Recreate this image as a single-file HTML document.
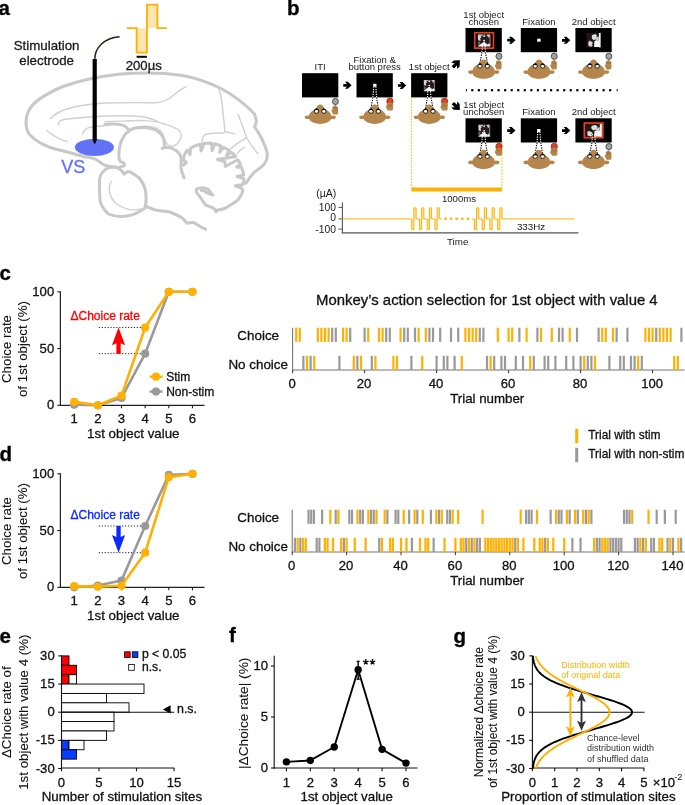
<!DOCTYPE html>
<html><head><meta charset="utf-8"><style>
html,body{margin:0;padding:0;background:#fff;width:685px;height:805px;overflow:hidden}
svg{display:block;font-family:"Liberation Sans", sans-serif}
text{paint-order:stroke}
svg{will-change:transform}
</style></head><body>
<svg width="685" height="805" viewBox="0 0 685 805">
<rect width="685" height="805" fill="#fff"/>
<text x="-1.60" y="14.70" font-size="20.5" text-anchor="start" fill="#000" stroke="#000" font-weight="bold"  stroke-width="0.3">a</text>
<text x="287.00" y="15.20" font-size="20.5" text-anchor="start" fill="#000" stroke="#000" font-weight="bold"  stroke-width="0.3">b</text>
<text x="-0.50" y="279.90" font-size="20.5" text-anchor="start" fill="#000" stroke="#000" font-weight="bold"  stroke-width="0.3">c</text>
<text x="-0.50" y="461.30" font-size="20.5" text-anchor="start" fill="#000" stroke="#000" font-weight="bold"  stroke-width="0.3">d</text>
<text x="-0.50" y="642.50" font-size="20.5" text-anchor="start" fill="#000" stroke="#000" font-weight="bold"  stroke-width="0.3">e</text>
<text x="228.90" y="642.30" font-size="20.5" text-anchor="start" fill="#000" stroke="#000" font-weight="bold"  stroke-width="0.3">f</text>
<text x="453.50" y="643.10" font-size="20.5" text-anchor="start" fill="#000" stroke="#000" font-weight="bold"  stroke-width="0.3">g</text>
<g fill="none" stroke="#c8c8c8" stroke-linecap="round" stroke-linejoin="round">
<path stroke-width="3.0" d="M118.3,168 C114,167 108,166.5 104.3,165 C101.5,163.5 99.5,161.5 96,159.5 C93,158 89,157.3 85,157 C78,155 70,152.5 59,150 C46,147 35,141 29,134 C24.5,127 25,115 31,107 C38,98 50,92 63,86.5 C80,80.5 100,76.5 118,74.3 C140,72.3 163,72.5 181,75.2 C198,78 212,84 222,89 C233,95 245,104 254.5,114 L256.5,121 L254.6,127 C259,133 264,142 267,152 C268,158 266,163 261.5,167 C258,169.5 256,170.5 253.5,173 C250,177 248,180 246.2,183.1"/>
<path stroke-width="1.4" stroke="#d0d0d0" d="M50.4,118.8 C56,113 62,110 70,108 C80,105 92,104 105,103 C120,102.5 135,102.5 150,102.7 C158,103.3 164,102 170,98 C176,93 181,89 186,86.6"/>
<path stroke-width="1.4" stroke="#d0d0d0" d="M58.5,125 C58,122 60,120.5 64,119.5 C75,117.8 90,117 105,116 C118,115.5 130,115.5 140,116.5 C148,117.5 154,119.5 158,121.6"/>
<path stroke-width="1.4" stroke="#d0d0d0" d="M105,121.6 C112,121.2 118,121.2 125,121 C132,120.5 138,120.3 145,120.6 C152,121 157,121.4 163,123.5 C169,125.5 174,127 177.9,129.5 C181,132 181.5,135 181.2,136.5 C180.5,139 179.5,141 178,143 C176,145.5 174,146.2 171,146.2 C168.5,146 167,144.5 165.4,141.3 C164,137 163,134 161,131.5 C158,128.5 155,127 150,126.4 C143,126 137,126.4 132,128 C130.5,128.8 129.8,129.5 129.3,130.5"/>
<path stroke-width="1.4" stroke="#d0d0d0" d="M46.6,130.2 C52,135 58,139 67.4,141.6"/>
<path stroke-width="1.4" stroke="#d0d0d0" d="M82.6,134 C84,130 86,128.2 90,127.3 C96,126.3 102,125.6 110,125.2"/>
<path stroke-width="1.4" stroke="#d0d0d0" d="M218.9,88.6 C221,96 222.5,104 222.8,111.1 C223.5,118 224.5,125 224.8,131.5 C228,132.5 232,133 235,133.6"/>
<path stroke-width="1.4" stroke="#d0d0d0" d="M201.8,144.1 C202,141 202.5,138 203.4,136.1 C204.5,134.5 206,133.8 208.2,133.7 C213,133.3 219,133 224.2,132.8"/>
<path stroke-width="1.4" stroke="#d0d0d0" d="M238.1,114.2 C241,122 244,130 246.7,137.7 C250,144 254,149 258,153.7"/>
<path stroke-width="1.4" stroke="#d0d0d0" d="M246.7,137.7 C241,141 235,145 230.7,148.9"/>
<path stroke-width="1.4" stroke="#d0d0d0" d="M237.1,153.7 C239,151 241.5,149 244.3,147.3"/>
<path stroke-width="3.0" d="M105,124.2 C110,124 115,124 118.1,124.2 C121.5,124.6 124,125.5 126,126.8 C127.5,128 128.5,129.5 129.3,131 C126.5,132.5 124.5,134.5 123.4,137.3 C121.5,140 120.5,142.5 120.1,145.2 C119.3,148 119,151 118.8,154.4 C118.7,157.5 119,159.5 120,161 C121,162 122.5,162.3 123.5,162.8 C124.5,163.8 124.6,164.8 124.4,165.4 C123.5,166 122.7,166.2 121.8,166.3 C120.5,166.8 119.3,167.4 118.3,168"/>
<path stroke-width="3.0" d="M129.3,131 C131,129.5 133,128.6 135.2,128.1 C138,127.6 141,127.4 144.4,127.5 C148,127.8 152,128.5 154.9,129.5 C157.5,131 159.8,132.8 161.5,134.7 C163,137 163.8,139 164.1,141.3 C164.4,143.5 164.6,145.5 164.8,147.2 L162.2,148.5 M164.8,147.2 C166.5,147.2 168.5,147.3 170.7,147.8 C172.5,148.5 174.3,149.3 176,150.5 C177.5,151.7 178.8,153 179.9,154.4 C180.6,156 181,157.8 181.2,159.7"/>
<path stroke-width="3.0" d="M118.3,168 C119.5,169 120.5,170 121.8,170.8 C122.8,172 123.5,173.5 124.4,174.2 C125.5,173 126,172.3 127,172 C128.5,171.8 129.5,171.8 130.5,172 C133,173.5 136.5,175.5 139.2,178"/>
<path stroke-width="3.0" d="M115.6,167.1 C112,167 109.5,167.3 107.8,168 C105.5,169.3 103.8,170.8 102.5,172.4 C101,174.3 100.2,176 99.9,177.7 C99.4,180 99.3,182.5 99.4,185 C99.5,192 99.8,197 100.2,201.8 C102,207 105,211 108.4,214 C114,216.5 120,216.8 126.8,216.1 C133,215 140,211.5 145.2,207.9 C146.5,200 146.2,194 145.2,189.5 C144,184 141.5,181 139.2,178"/>
<path stroke-width="1.4" stroke="#d0d0d0" d="M111.5,181.3 C109.5,184 109,187.5 109.4,191.5 C110.5,197 113,201 116.6,203.8 C121,207 126,209 130.9,209.9 C137,210 142,209 147.2,207.9"/>
<path stroke-width="3.0" d="M145.2,205.8 C148.5,207.5 152,209 155.4,209.9 C162,211 166,211.5 170,212 C175,214 179,216 183.1,218.6 C184.5,220.5 185.8,222 187.1,223.2 C189.3,222.8 191.5,222.4 193.6,222.6 C196,223.5 198,225 200.2,226.5 C202,227.5 203.8,228.3 205.5,229.1"/>
<path stroke-width="3.0" d="M181.2,159.7 C181.2,163 181,166 181,168.2 C181.5,171 182.5,174 184.1,177.8"/>
<path stroke-width="3.0" d="M183.5,165 L186.5,162.5 L183.2,160 C183.6,156 185,152.5 187.5,150 L190,154.5 L190.6,148 C193.5,146.3 197,145 200.5,144.3 L201,151 L204,143.6 C206.5,143.2 209,143.1 211.5,143.3 L212.2,150.8 L214.6,143.8 C216.8,144.3 219,145 221,146 L219.6,152.2 L223.6,147.3 C225.8,148.3 227.6,149.4 229.3,150.5 L226.5,155.5 L231.3,152.3 C233,153.5 234.6,155 235.8,156.6 L217.5,159.6 L225,161.7 L225.2,166.5 L237.7,159.8 C238.9,161.2 239.8,162.8 240.5,164.4 L236.4,167 L241.6,167.6 C242.6,170 243.3,172.5 243.7,175 L237,176.5 L243.8,178.6 C244,180.5 243.8,182.5 243.2,184.4 L235.4,185.8 L241.2,188 C242.4,189 243,190 242.9,190.4 C242.5,192 242,193 241.6,194.3 C240.5,196 239.5,197.8 238.3,199.6 C236,201.5 234,203 231.8,204.2 C229,206 226.5,207.6 223.9,208.8 C221.5,209.5 219,210 216.7,210.2 L216,212 L214.8,209.5 C214,208.5 213,208 212,207.4 C209.5,206.5 207.5,205.8 205.5,204.8 C204,203 202.8,201 201.5,198.9 C200,197 198.3,195 196.9,193 C196.2,191.5 196,190.2 196.3,189.1 C198.5,188 200.5,187.5 202.8,187.7 C204.6,188 206.4,188.5 208.1,189.1 C209.6,191 211.2,193 212.7,195 L205.5,192 C204.5,190.5 203,190 201.5,190.8"/>
</g>
<ellipse cx="94.4" cy="147.3" rx="19.5" ry="8.6" fill="#6272F5"/>
<text x="73.20" y="172.80" font-size="18" text-anchor="middle" fill="#6272F5" stroke="#6272F5" font-weight="normal"  stroke-width="0.3">VS</text>
<path d="M92.6,59 L96.8,59 L96.8,140 L94.7,144.5 L92.6,140 Z" fill="#000"/>
<path d="M94.8,59.5 C94.5,48 104,38 119.6,36.8" fill="none" stroke="#2b1d1a" stroke-width="1.5"/>
<text x="46.60" y="49.50" font-size="13.3" text-anchor="middle" fill="#1a1a1a" stroke="#1a1a1a" font-weight="normal"  stroke-width="0.3">Stimulation</text>
<text x="46.60" y="65.00" font-size="13.3" text-anchor="middle" fill="#1a1a1a" stroke="#1a1a1a" font-weight="normal"  stroke-width="0.3">electrode</text>
<rect x="136.6" y="28.2" width="10.3" height="24.4" fill="#FFE6B0"/>
<rect x="146.9" y="4.6" width="10.5" height="23.6" fill="#FFE6B0"/>
<path d="M126.8,28.2 H136.6 V52.6 H146.9 V4.6 H157.4 V28.2 H166.9" fill="none" stroke="#FFB000" stroke-width="1.8"/>
<rect x="136.6" y="55.8" width="10.3" height="2" fill="#000"/>
<text x="143.80" y="70.30" font-size="13.2" text-anchor="middle" fill="#1a1a1a" stroke="#1a1a1a" font-weight="normal"  stroke-width="0.3">200µs</text>
<text x="320.10" y="70.30" font-size="9.5" text-anchor="middle" fill="#1a1a1a" stroke="#1a1a1a" font-weight="normal"  stroke-width="0">ITI</text>
<text x="374.70" y="63.00" font-size="9.5" text-anchor="middle" fill="#1a1a1a" stroke="#1a1a1a" font-weight="normal"  stroke-width="0">Fixation &amp;</text>
<text x="374.70" y="70.30" font-size="9.5" text-anchor="middle" fill="#1a1a1a" stroke="#1a1a1a" font-weight="normal"  stroke-width="0">button press</text>
<text x="429.20" y="70.30" font-size="9.5" text-anchor="middle" fill="#1a1a1a" stroke="#1a1a1a" font-weight="normal"  stroke-width="0">1st object</text>
<text x="483.70" y="17.60" font-size="9.5" text-anchor="middle" fill="#1a1a1a" stroke="#1a1a1a" font-weight="normal"  stroke-width="0">1st object</text>
<text x="483.70" y="24.50" font-size="9.5" text-anchor="middle" fill="#1a1a1a" stroke="#1a1a1a" font-weight="normal"  stroke-width="0">chosen</text>
<text x="538.90" y="24.50" font-size="9.5" text-anchor="middle" fill="#1a1a1a" stroke="#1a1a1a" font-weight="normal"  stroke-width="0">Fixation</text>
<text x="593.70" y="24.50" font-size="9.5" text-anchor="middle" fill="#1a1a1a" stroke="#1a1a1a" font-weight="normal"  stroke-width="0">2nd object</text>
<text x="483.70" y="107.60" font-size="9.5" text-anchor="middle" fill="#1a1a1a" stroke="#1a1a1a" font-weight="normal"  stroke-width="0">1st object</text>
<text x="483.70" y="114.50" font-size="9.5" text-anchor="middle" fill="#1a1a1a" stroke="#1a1a1a" font-weight="normal"  stroke-width="0">unchosen</text>
<text x="538.90" y="114.50" font-size="9.5" text-anchor="middle" fill="#1a1a1a" stroke="#1a1a1a" font-weight="normal"  stroke-width="0">Fixation</text>
<text x="593.70" y="114.50" font-size="9.5" text-anchor="middle" fill="#1a1a1a" stroke="#1a1a1a" font-weight="normal"  stroke-width="0">2nd object</text>
<rect x="302.0" y="73.2" width="36.3" height="24.2" fill="#000"/>
<rect x="356.5" y="73.2" width="36.3" height="24.2" fill="#000"/>
<rect x="411.1" y="73.2" width="36.3" height="24.2" fill="#000"/>
<rect x="465.5" y="28.0" width="36.3" height="24.2" fill="#000"/>
<rect x="520.8" y="28.0" width="36.3" height="24.2" fill="#000"/>
<rect x="575.4" y="28.0" width="36.3" height="24.2" fill="#000"/>
<rect x="465.5" y="118.3" width="36.3" height="24.2" fill="#000"/>
<rect x="520.8" y="118.3" width="36.3" height="24.2" fill="#000"/>
<rect x="575.4" y="118.3" width="36.3" height="24.2" fill="#000"/>
<line x1="411.4" y1="97.4" x2="411.4" y2="188" stroke="#FFB000" stroke-width="1" stroke-dasharray="1.5 1.5"/>
<line x1="502.0" y1="142.5" x2="502.0" y2="188" stroke="#FFB000" stroke-width="1" stroke-dasharray="1.5 1.5"/>
<rect x="373.10" y="83.80" width="3.4" height="3.0" fill="#fff"/>
<g transform="translate(423.40,79.90) scale(11.70,11.40)"><rect width="1" height="1" fill="#2a1c1c"/>
<path d="M0.04,0 H0.42 V0.07 H0.04 Z M0.47,0 H0.6 V0.06 H0.47 Z M0.7,0 H0.96 V0.07 H0.7 Z" fill="#e8e8e8"/>
<path d="M0.04,0.05 L0.26,0.05 L0.3,0.2 L0.2,0.33 L0.27,0.5 L0.12,0.52 L0.04,0.38 Z" fill="#d8d8d8"/>
<circle cx="0.5" cy="0.13" r="0.08" fill="#cfcfcf"/>
<path d="M0.74,0.04 L0.95,0.04 L0.95,0.22 L0.82,0.25 L0.76,0.15 Z" fill="#d0d0d0"/>
<path d="M0.9,0.1 H1 V0.95 H0.9 Z" fill="#7a7272"/>
<circle cx="0.5" cy="0.5" r="0.07" fill="#fff"/>
<path d="M0.04,0.97 L0.2,0.8 L0.35,0.72 L0.45,0.62 L0.55,0.62 L0.65,0.74 L0.78,0.82 L0.86,0.72 L0.96,0.86 L0.96,1 L0.04,1 Z" fill="#eeeeee"/>
<path d="M0.04,0.58 L0.2,0.62 L0.18,0.82 L0.04,0.9 Z" fill="#6a6262"/></g>
<g transform="translate(477.40,34.60) scale(13.30,12.00)"><rect width="1" height="1" fill="#2a1c1c"/>
<path d="M0.04,0 H0.42 V0.07 H0.04 Z M0.47,0 H0.6 V0.06 H0.47 Z M0.7,0 H0.96 V0.07 H0.7 Z" fill="#e8e8e8"/>
<path d="M0.04,0.05 L0.26,0.05 L0.3,0.2 L0.2,0.33 L0.27,0.5 L0.12,0.52 L0.04,0.38 Z" fill="#d8d8d8"/>
<circle cx="0.5" cy="0.13" r="0.08" fill="#cfcfcf"/>
<path d="M0.74,0.04 L0.95,0.04 L0.95,0.22 L0.82,0.25 L0.76,0.15 Z" fill="#d0d0d0"/>
<path d="M0.9,0.1 H1 V0.95 H0.9 Z" fill="#7a7272"/>
<circle cx="0.5" cy="0.5" r="0.07" fill="#fff"/>
<path d="M0.04,0.97 L0.2,0.8 L0.35,0.72 L0.45,0.62 L0.55,0.62 L0.65,0.74 L0.78,0.82 L0.86,0.72 L0.96,0.86 L0.96,1 L0.04,1 Z" fill="#eeeeee"/>
<path d="M0.04,0.58 L0.2,0.62 L0.18,0.82 L0.04,0.9 Z" fill="#6a6262"/></g>
<rect x="474.75" y="32.75" width="18.7" height="15.4" fill="none" stroke="#E2401F" stroke-width="1.7"/>
<rect x="537.20" y="38.70" width="3.4" height="3.0" fill="#fff"/>
<g transform="translate(586.60,32.90) scale(14.30,14.50)"><rect width="1" height="1" fill="#231818"/>
<path d="M0.86,0 H0.98 V1 H0.86 Z" fill="#f0f0f0"/>
<path d="M0.55,0.55 L0.9,0.5 L0.95,0.98 L0.52,0.98 Z" fill="#f4f4f4"/>
<path d="M0.4,0.15 L0.62,0.08 L0.72,0.2 L0.66,0.42 L0.5,0.5 L0.38,0.4 L0.36,0.25 Z" fill="#e0e0e0"/>
<circle cx="0.76" cy="0.34" r="0.08" fill="#231818"/>
<path d="M0.62,0.3 L0.86,0.25 L0.86,0.55 L0.62,0.55 Z" fill="#c8c8c8"/>
<path d="M0.12,0.62 L0.28,0.56 L0.42,0.66 L0.45,0.86 L0.32,0.96 L0.14,0.9 Z" fill="#dcdcdc"/>
<circle cx="0.42" cy="0.8" r="0.06" fill="#231818"/>
<circle cx="0.2" cy="0.58" r="0.05" fill="#bbb"/></g>
<g transform="translate(478.00,124.80) scale(12.20,12.00)"><rect width="1" height="1" fill="#2a1c1c"/>
<path d="M0.04,0 H0.42 V0.07 H0.04 Z M0.47,0 H0.6 V0.06 H0.47 Z M0.7,0 H0.96 V0.07 H0.7 Z" fill="#e8e8e8"/>
<path d="M0.04,0.05 L0.26,0.05 L0.3,0.2 L0.2,0.33 L0.27,0.5 L0.12,0.52 L0.04,0.38 Z" fill="#d8d8d8"/>
<circle cx="0.5" cy="0.13" r="0.08" fill="#cfcfcf"/>
<path d="M0.74,0.04 L0.95,0.04 L0.95,0.22 L0.82,0.25 L0.76,0.15 Z" fill="#d0d0d0"/>
<path d="M0.9,0.1 H1 V0.95 H0.9 Z" fill="#7a7272"/>
<circle cx="0.5" cy="0.5" r="0.07" fill="#fff"/>
<path d="M0.04,0.97 L0.2,0.8 L0.35,0.72 L0.45,0.62 L0.55,0.62 L0.65,0.74 L0.78,0.82 L0.86,0.72 L0.96,0.86 L0.96,1 L0.04,1 Z" fill="#eeeeee"/>
<path d="M0.04,0.58 L0.2,0.62 L0.18,0.82 L0.04,0.9 Z" fill="#6a6262"/></g>
<rect x="537.10" y="129.00" width="3.4" height="3.0" fill="#fff"/>
<g transform="translate(585.20,123.90) scale(17.00,13.00)"><rect width="1" height="1" fill="#231818"/>
<path d="M0.86,0 H0.98 V1 H0.86 Z" fill="#f0f0f0"/>
<path d="M0.55,0.55 L0.9,0.5 L0.95,0.98 L0.52,0.98 Z" fill="#f4f4f4"/>
<path d="M0.4,0.15 L0.62,0.08 L0.72,0.2 L0.66,0.42 L0.5,0.5 L0.38,0.4 L0.36,0.25 Z" fill="#e0e0e0"/>
<circle cx="0.76" cy="0.34" r="0.08" fill="#231818"/>
<path d="M0.62,0.3 L0.86,0.25 L0.86,0.55 L0.62,0.55 Z" fill="#c8c8c8"/>
<path d="M0.12,0.62 L0.28,0.56 L0.42,0.66 L0.45,0.86 L0.32,0.96 L0.14,0.9 Z" fill="#dcdcdc"/>
<circle cx="0.42" cy="0.8" r="0.06" fill="#231818"/>
<circle cx="0.2" cy="0.58" r="0.05" fill="#bbb"/></g>
<rect x="584.35" y="123.05" width="18.5" height="14.7" fill="none" stroke="#E2401F" stroke-width="1.7"/>
<g transform="translate(320.15,115.90)"><ellipse cx="-12.6" cy="1.4" rx="2.9" ry="1.8" fill="#B5864B"/><ellipse cx="12.8" cy="1.4" rx="2.9" ry="1.8" fill="#B5864B"/><path d="M-11.4,1.2 C-11.4,-3 -7.5,-5.6 -4.2,-6.6 C-3.6,-9.6 -2,-11.3 0,-11.3 C2,-11.3 3.6,-9.6 4.2,-6.6 C7.5,-5.6 11.4,-3 11.4,1.2 C11.4,5.6 6,8 0,8 C-6,8 -11.4,5.6 -11.4,1.2 Z" fill="#B5864B"/><circle cx="-3.7" cy="-4.8" r="2.2" fill="#fff" stroke="#000" stroke-width="0.8"/><path d="M-6.00,-5.3 L-3.70,-7.7 L-1.40,-5.3 Q-3.70,-6.3 -6.00,-5.3 Z" fill="#000"/><circle cx="3.7" cy="-4.8" r="2.2" fill="#fff" stroke="#000" stroke-width="0.8"/><path d="M1.40,-5.3 L3.70,-7.7 L6.00,-5.3 Q3.70,-6.3 1.40,-5.3 Z" fill="#000"/><path d="M12.2,-8 C12.2,-9.5 13.3,-10.1 15,-10.1 C16.9,-10.1 17.9,-9.3 17.9,-7.5 L17.9,-2.6 C17.9,-1.7 17.2,-1.3 16.3,-1.3 L13.6,-1.3 C12.8,-1.3 12.4,-2 12.4,-2.8 L11.3,-4.8 C11,-5.5 11.4,-6 12.2,-6.2 Z" fill="#B5864B"/><path d="M13.8,-8.6 L13.8,-6.6 M15.3,-9 L15.3,-6.8 M16.8,-8.6 L16.8,-6.6" stroke="#8a5f2c" stroke-width="0.5"/><line x1="15.3" y1="-11.4" x2="15.3" y2="-9.8" stroke="#666" stroke-width="0.7"/><ellipse cx="15.3" cy="-14.4" rx="3.0" ry="3.1" fill="#a3a3a3" stroke="#333" stroke-width="0.8"/></g>
<line x1="370.95" y1="108.20" x2="372.91" y2="97.40" stroke="#000" stroke-width="1.1" stroke-dasharray="1.3 1.1"/>
<line x1="372.91" y1="97.40" x2="373.69" y2="87.00" stroke="#fff" stroke-width="1.1" stroke-dasharray="1.3 1.1"/>
<line x1="378.35" y1="108.20" x2="376.54" y2="97.40" stroke="#000" stroke-width="1.1" stroke-dasharray="1.3 1.1"/>
<line x1="376.54" y1="97.40" x2="375.91" y2="87.00" stroke="#fff" stroke-width="1.1" stroke-dasharray="1.3 1.1"/>
<g transform="translate(374.65,115.90)"><ellipse cx="-12.6" cy="1.4" rx="2.9" ry="1.8" fill="#B5864B"/><ellipse cx="12.8" cy="1.4" rx="2.9" ry="1.8" fill="#B5864B"/><path d="M-11.4,1.2 C-11.4,-3 -7.5,-5.6 -4.2,-6.6 C-3.6,-9.6 -2,-11.3 0,-11.3 C2,-11.3 3.6,-9.6 4.2,-6.6 C7.5,-5.6 11.4,-3 11.4,1.2 C11.4,5.6 6,8 0,8 C-6,8 -11.4,5.6 -11.4,1.2 Z" fill="#B5864B"/><circle cx="-3.7" cy="-4.8" r="2.2" fill="#fff" stroke="#000" stroke-width="0.8"/><path d="M-6.00,-5.3 L-3.70,-7.7 L-1.40,-5.3 Q-3.70,-6.3 -6.00,-5.3 Z" fill="#000"/><circle cx="3.7" cy="-4.8" r="2.2" fill="#fff" stroke="#000" stroke-width="0.8"/><path d="M1.40,-5.3 L3.70,-7.7 L6.00,-5.3 Q3.70,-6.3 1.40,-5.3 Z" fill="#000"/><circle cx="15.3" cy="-14.6" r="3.2" fill="#E2401F" stroke="#6b2010" stroke-width="0.6"/><path d="M11.9,-12.2 C12.6,-12.9 14,-13.1 15.3,-13.1 C16.6,-13.1 17.9,-12.9 18.6,-12.2 L18.4,-6.8 C18.4,-5.9 17.6,-5.3 16.6,-5.3 L13.8,-5.3 C12.9,-5.3 12.4,-6 12.4,-6.8 L11.1,-8.6 C10.8,-9.3 11.3,-9.8 12,-10 Z" fill="#B5864B"/><path d="M13.8,-11.5 L13.8,-9.5 M15.3,-11.2 L15.3,-9.2 M16.8,-11.5 L16.8,-9.5" stroke="#8a5f2c" stroke-width="0.5"/></g>
<line x1="425.55" y1="108.20" x2="427.50" y2="97.40" stroke="#000" stroke-width="1.1" stroke-dasharray="1.3 1.1"/>
<line x1="427.50" y1="97.40" x2="428.09" y2="88.00" stroke="#fff" stroke-width="1.1" stroke-dasharray="1.3 1.1"/>
<line x1="432.95" y1="108.20" x2="430.95" y2="97.40" stroke="#000" stroke-width="1.1" stroke-dasharray="1.3 1.1"/>
<line x1="430.95" y1="97.40" x2="430.31" y2="88.00" stroke="#fff" stroke-width="1.1" stroke-dasharray="1.3 1.1"/>
<g transform="translate(429.25,115.90)"><ellipse cx="-12.6" cy="1.4" rx="2.9" ry="1.8" fill="#B5864B"/><ellipse cx="12.8" cy="1.4" rx="2.9" ry="1.8" fill="#B5864B"/><path d="M-11.4,1.2 C-11.4,-3 -7.5,-5.6 -4.2,-6.6 C-3.6,-9.6 -2,-11.3 0,-11.3 C2,-11.3 3.6,-9.6 4.2,-6.6 C7.5,-5.6 11.4,-3 11.4,1.2 C11.4,5.6 6,8 0,8 C-6,8 -11.4,5.6 -11.4,1.2 Z" fill="#B5864B"/><circle cx="-3.7" cy="-4.8" r="2.2" fill="#fff" stroke="#000" stroke-width="0.8"/><path d="M-6.00,-5.3 L-3.70,-7.7 L-1.40,-5.3 Q-3.70,-6.3 -6.00,-5.3 Z" fill="#000"/><circle cx="3.7" cy="-4.8" r="2.2" fill="#fff" stroke="#000" stroke-width="0.8"/><path d="M1.40,-5.3 L3.70,-7.7 L6.00,-5.3 Q3.70,-6.3 1.40,-5.3 Z" fill="#000"/><circle cx="15.3" cy="-14.6" r="3.2" fill="#E2401F" stroke="#6b2010" stroke-width="0.6"/><path d="M11.9,-12.2 C12.6,-12.9 14,-13.1 15.3,-13.1 C16.6,-13.1 17.9,-12.9 18.6,-12.2 L18.4,-6.8 C18.4,-5.9 17.6,-5.3 16.6,-5.3 L13.8,-5.3 C12.9,-5.3 12.4,-6 12.4,-6.8 L11.1,-8.6 C10.8,-9.3 11.3,-9.8 12,-10 Z" fill="#B5864B"/><path d="M13.8,-11.5 L13.8,-9.5 M15.3,-11.2 L15.3,-9.2 M16.8,-11.5 L16.8,-9.5" stroke="#8a5f2c" stroke-width="0.5"/></g>
<line x1="479.95" y1="63.00" x2="481.97" y2="52.20" stroke="#000" stroke-width="1.1" stroke-dasharray="1.3 1.1"/>
<line x1="481.97" y1="52.20" x2="482.59" y2="43.00" stroke="#fff" stroke-width="1.1" stroke-dasharray="1.3 1.1"/>
<line x1="487.35" y1="63.00" x2="485.38" y2="52.20" stroke="#000" stroke-width="1.1" stroke-dasharray="1.3 1.1"/>
<line x1="485.38" y1="52.20" x2="484.81" y2="43.00" stroke="#fff" stroke-width="1.1" stroke-dasharray="1.3 1.1"/>
<g transform="translate(483.65,70.70)"><ellipse cx="-12.6" cy="1.4" rx="2.9" ry="1.8" fill="#B5864B"/><ellipse cx="12.8" cy="1.4" rx="2.9" ry="1.8" fill="#B5864B"/><path d="M-11.4,1.2 C-11.4,-3 -7.5,-5.6 -4.2,-6.6 C-3.6,-9.6 -2,-11.3 0,-11.3 C2,-11.3 3.6,-9.6 4.2,-6.6 C7.5,-5.6 11.4,-3 11.4,1.2 C11.4,5.6 6,8 0,8 C-6,8 -11.4,5.6 -11.4,1.2 Z" fill="#B5864B"/><circle cx="-3.7" cy="-4.8" r="2.2" fill="#fff" stroke="#000" stroke-width="0.8"/><path d="M-6.00,-5.3 L-3.70,-7.7 L-1.40,-5.3 Q-3.70,-6.3 -6.00,-5.3 Z" fill="#000"/><circle cx="3.7" cy="-4.8" r="2.2" fill="#fff" stroke="#000" stroke-width="0.8"/><path d="M1.40,-5.3 L3.70,-7.7 L6.00,-5.3 Q3.70,-6.3 1.40,-5.3 Z" fill="#000"/><path d="M12.2,-8 C12.2,-9.5 13.3,-10.1 15,-10.1 C16.9,-10.1 17.9,-9.3 17.9,-7.5 L17.9,-2.6 C17.9,-1.7 17.2,-1.3 16.3,-1.3 L13.6,-1.3 C12.8,-1.3 12.4,-2 12.4,-2.8 L11.3,-4.8 C11,-5.5 11.4,-6 12.2,-6.2 Z" fill="#B5864B"/><path d="M13.8,-8.6 L13.8,-6.6 M15.3,-9 L15.3,-6.8 M16.8,-8.6 L16.8,-6.6" stroke="#8a5f2c" stroke-width="0.5"/><line x1="15.3" y1="-11.4" x2="15.3" y2="-9.8" stroke="#666" stroke-width="0.7"/><ellipse cx="15.3" cy="-14.4" rx="3.0" ry="3.1" fill="#a3a3a3" stroke="#333" stroke-width="0.8"/></g>
<g transform="translate(538.95,70.70)"><ellipse cx="-12.6" cy="1.4" rx="2.9" ry="1.8" fill="#B5864B"/><ellipse cx="12.8" cy="1.4" rx="2.9" ry="1.8" fill="#B5864B"/><path d="M-11.4,1.2 C-11.4,-3 -7.5,-5.6 -4.2,-6.6 C-3.6,-9.6 -2,-11.3 0,-11.3 C2,-11.3 3.6,-9.6 4.2,-6.6 C7.5,-5.6 11.4,-3 11.4,1.2 C11.4,5.6 6,8 0,8 C-6,8 -11.4,5.6 -11.4,1.2 Z" fill="#B5864B"/><circle cx="-3.7" cy="-4.8" r="2.2" fill="#fff" stroke="#000" stroke-width="0.8"/><path d="M-6.00,-5.3 L-3.70,-7.7 L-1.40,-5.3 Q-3.70,-6.3 -6.00,-5.3 Z" fill="#000"/><circle cx="3.7" cy="-4.8" r="2.2" fill="#fff" stroke="#000" stroke-width="0.8"/><path d="M1.40,-5.3 L3.70,-7.7 L6.00,-5.3 Q3.70,-6.3 1.40,-5.3 Z" fill="#000"/><path d="M12.2,-8 C12.2,-9.5 13.3,-10.1 15,-10.1 C16.9,-10.1 17.9,-9.3 17.9,-7.5 L17.9,-2.6 C17.9,-1.7 17.2,-1.3 16.3,-1.3 L13.6,-1.3 C12.8,-1.3 12.4,-2 12.4,-2.8 L11.3,-4.8 C11,-5.5 11.4,-6 12.2,-6.2 Z" fill="#B5864B"/><path d="M13.8,-8.6 L13.8,-6.6 M15.3,-9 L15.3,-6.8 M16.8,-8.6 L16.8,-6.6" stroke="#8a5f2c" stroke-width="0.5"/><line x1="15.3" y1="-11.4" x2="15.3" y2="-9.8" stroke="#666" stroke-width="0.7"/><ellipse cx="15.3" cy="-14.4" rx="3.0" ry="3.1" fill="#a3a3a3" stroke="#333" stroke-width="0.8"/></g>
<g transform="translate(593.55,70.70)"><ellipse cx="-12.6" cy="1.4" rx="2.9" ry="1.8" fill="#B5864B"/><ellipse cx="12.8" cy="1.4" rx="2.9" ry="1.8" fill="#B5864B"/><path d="M-11.4,1.2 C-11.4,-3 -7.5,-5.6 -4.2,-6.6 C-3.6,-9.6 -2,-11.3 0,-11.3 C2,-11.3 3.6,-9.6 4.2,-6.6 C7.5,-5.6 11.4,-3 11.4,1.2 C11.4,5.6 6,8 0,8 C-6,8 -11.4,5.6 -11.4,1.2 Z" fill="#B5864B"/><circle cx="-3.7" cy="-4.8" r="2.2" fill="#fff" stroke="#000" stroke-width="0.8"/><path d="M-6.00,-5.3 L-3.70,-7.7 L-1.40,-5.3 Q-3.70,-6.3 -6.00,-5.3 Z" fill="#000"/><circle cx="3.7" cy="-4.8" r="2.2" fill="#fff" stroke="#000" stroke-width="0.8"/><path d="M1.40,-5.3 L3.70,-7.7 L6.00,-5.3 Q3.70,-6.3 1.40,-5.3 Z" fill="#000"/><path d="M12.2,-8 C12.2,-9.5 13.3,-10.1 15,-10.1 C16.9,-10.1 17.9,-9.3 17.9,-7.5 L17.9,-2.6 C17.9,-1.7 17.2,-1.3 16.3,-1.3 L13.6,-1.3 C12.8,-1.3 12.4,-2 12.4,-2.8 L11.3,-4.8 C11,-5.5 11.4,-6 12.2,-6.2 Z" fill="#B5864B"/><path d="M13.8,-8.6 L13.8,-6.6 M15.3,-9 L15.3,-6.8 M16.8,-8.6 L16.8,-6.6" stroke="#8a5f2c" stroke-width="0.5"/><line x1="15.3" y1="-11.4" x2="15.3" y2="-9.8" stroke="#666" stroke-width="0.7"/><ellipse cx="15.3" cy="-14.4" rx="3.0" ry="3.1" fill="#a3a3a3" stroke="#333" stroke-width="0.8"/></g>
<line x1="479.95" y1="153.30" x2="481.85" y2="142.50" stroke="#000" stroke-width="1.1" stroke-dasharray="1.3 1.1"/>
<line x1="481.85" y1="142.50" x2="482.59" y2="132.00" stroke="#fff" stroke-width="1.1" stroke-dasharray="1.3 1.1"/>
<line x1="487.35" y1="153.30" x2="485.50" y2="142.50" stroke="#000" stroke-width="1.1" stroke-dasharray="1.3 1.1"/>
<line x1="485.50" y1="142.50" x2="484.81" y2="132.00" stroke="#fff" stroke-width="1.1" stroke-dasharray="1.3 1.1"/>
<g transform="translate(483.65,161.00)"><ellipse cx="-12.6" cy="1.4" rx="2.9" ry="1.8" fill="#B5864B"/><ellipse cx="12.8" cy="1.4" rx="2.9" ry="1.8" fill="#B5864B"/><path d="M-11.4,1.2 C-11.4,-3 -7.5,-5.6 -4.2,-6.6 C-3.6,-9.6 -2,-11.3 0,-11.3 C2,-11.3 3.6,-9.6 4.2,-6.6 C7.5,-5.6 11.4,-3 11.4,1.2 C11.4,5.6 6,8 0,8 C-6,8 -11.4,5.6 -11.4,1.2 Z" fill="#B5864B"/><circle cx="-3.7" cy="-4.8" r="2.2" fill="#fff" stroke="#000" stroke-width="0.8"/><path d="M-6.00,-5.3 L-3.70,-7.7 L-1.40,-5.3 Q-3.70,-6.3 -6.00,-5.3 Z" fill="#000"/><circle cx="3.7" cy="-4.8" r="2.2" fill="#fff" stroke="#000" stroke-width="0.8"/><path d="M1.40,-5.3 L3.70,-7.7 L6.00,-5.3 Q3.70,-6.3 1.40,-5.3 Z" fill="#000"/><circle cx="15.3" cy="-14.6" r="3.2" fill="#E2401F" stroke="#6b2010" stroke-width="0.6"/><path d="M11.9,-12.2 C12.6,-12.9 14,-13.1 15.3,-13.1 C16.6,-13.1 17.9,-12.9 18.6,-12.2 L18.4,-6.8 C18.4,-5.9 17.6,-5.3 16.6,-5.3 L13.8,-5.3 C12.9,-5.3 12.4,-6 12.4,-6.8 L11.1,-8.6 C10.8,-9.3 11.3,-9.8 12,-10 Z" fill="#B5864B"/><path d="M13.8,-11.5 L13.8,-9.5 M15.3,-11.2 L15.3,-9.2 M16.8,-11.5 L16.8,-9.5" stroke="#8a5f2c" stroke-width="0.5"/></g>
<line x1="535.25" y1="153.30" x2="537.05" y2="142.50" stroke="#000" stroke-width="1.1" stroke-dasharray="1.3 1.1"/>
<line x1="537.05" y1="142.50" x2="537.69" y2="132.00" stroke="#fff" stroke-width="1.1" stroke-dasharray="1.3 1.1"/>
<line x1="542.65" y1="153.30" x2="540.70" y2="142.50" stroke="#000" stroke-width="1.1" stroke-dasharray="1.3 1.1"/>
<line x1="540.70" y1="142.50" x2="539.91" y2="132.00" stroke="#fff" stroke-width="1.1" stroke-dasharray="1.3 1.1"/>
<g transform="translate(538.95,161.00)"><ellipse cx="-12.6" cy="1.4" rx="2.9" ry="1.8" fill="#B5864B"/><ellipse cx="12.8" cy="1.4" rx="2.9" ry="1.8" fill="#B5864B"/><path d="M-11.4,1.2 C-11.4,-3 -7.5,-5.6 -4.2,-6.6 C-3.6,-9.6 -2,-11.3 0,-11.3 C2,-11.3 3.6,-9.6 4.2,-6.6 C7.5,-5.6 11.4,-3 11.4,1.2 C11.4,5.6 6,8 0,8 C-6,8 -11.4,5.6 -11.4,1.2 Z" fill="#B5864B"/><circle cx="-3.7" cy="-4.8" r="2.2" fill="#fff" stroke="#000" stroke-width="0.8"/><path d="M-6.00,-5.3 L-3.70,-7.7 L-1.40,-5.3 Q-3.70,-6.3 -6.00,-5.3 Z" fill="#000"/><circle cx="3.7" cy="-4.8" r="2.2" fill="#fff" stroke="#000" stroke-width="0.8"/><path d="M1.40,-5.3 L3.70,-7.7 L6.00,-5.3 Q3.70,-6.3 1.40,-5.3 Z" fill="#000"/><circle cx="15.3" cy="-14.6" r="3.2" fill="#E2401F" stroke="#6b2010" stroke-width="0.6"/><path d="M11.9,-12.2 C12.6,-12.9 14,-13.1 15.3,-13.1 C16.6,-13.1 17.9,-12.9 18.6,-12.2 L18.4,-6.8 C18.4,-5.9 17.6,-5.3 16.6,-5.3 L13.8,-5.3 C12.9,-5.3 12.4,-6 12.4,-6.8 L11.1,-8.6 C10.8,-9.3 11.3,-9.8 12,-10 Z" fill="#B5864B"/><path d="M13.8,-11.5 L13.8,-9.5 M15.3,-11.2 L15.3,-9.2 M16.8,-11.5 L16.8,-9.5" stroke="#8a5f2c" stroke-width="0.5"/></g>
<line x1="589.85" y1="153.30" x2="591.85" y2="142.50" stroke="#000" stroke-width="1.1" stroke-dasharray="1.3 1.1"/>
<line x1="591.85" y1="142.50" x2="592.49" y2="133.00" stroke="#fff" stroke-width="1.1" stroke-dasharray="1.3 1.1"/>
<line x1="597.25" y1="153.30" x2="595.31" y2="142.50" stroke="#000" stroke-width="1.1" stroke-dasharray="1.3 1.1"/>
<line x1="595.31" y1="142.50" x2="594.71" y2="133.00" stroke="#fff" stroke-width="1.1" stroke-dasharray="1.3 1.1"/>
<g transform="translate(593.55,161.00)"><ellipse cx="-12.6" cy="1.4" rx="2.9" ry="1.8" fill="#B5864B"/><ellipse cx="12.8" cy="1.4" rx="2.9" ry="1.8" fill="#B5864B"/><path d="M-11.4,1.2 C-11.4,-3 -7.5,-5.6 -4.2,-6.6 C-3.6,-9.6 -2,-11.3 0,-11.3 C2,-11.3 3.6,-9.6 4.2,-6.6 C7.5,-5.6 11.4,-3 11.4,1.2 C11.4,5.6 6,8 0,8 C-6,8 -11.4,5.6 -11.4,1.2 Z" fill="#B5864B"/><circle cx="-3.7" cy="-4.8" r="2.2" fill="#fff" stroke="#000" stroke-width="0.8"/><path d="M-6.00,-5.3 L-3.70,-7.7 L-1.40,-5.3 Q-3.70,-6.3 -6.00,-5.3 Z" fill="#000"/><circle cx="3.7" cy="-4.8" r="2.2" fill="#fff" stroke="#000" stroke-width="0.8"/><path d="M1.40,-5.3 L3.70,-7.7 L6.00,-5.3 Q3.70,-6.3 1.40,-5.3 Z" fill="#000"/><path d="M12.2,-8 C12.2,-9.5 13.3,-10.1 15,-10.1 C16.9,-10.1 17.9,-9.3 17.9,-7.5 L17.9,-2.6 C17.9,-1.7 17.2,-1.3 16.3,-1.3 L13.6,-1.3 C12.8,-1.3 12.4,-2 12.4,-2.8 L11.3,-4.8 C11,-5.5 11.4,-6 12.2,-6.2 Z" fill="#B5864B"/><path d="M13.8,-8.6 L13.8,-6.6 M15.3,-9 L15.3,-6.8 M16.8,-8.6 L16.8,-6.6" stroke="#8a5f2c" stroke-width="0.5"/><line x1="15.3" y1="-11.4" x2="15.3" y2="-9.8" stroke="#666" stroke-width="0.7"/><ellipse cx="15.3" cy="-14.4" rx="3.0" ry="3.1" fill="#a3a3a3" stroke="#333" stroke-width="0.8"/></g>
<path transform="translate(343.3,85.3)" d="M0,-1.35 L3.5,-1.35 L1.7,-3.5 L4.5,-3.5 L8.3,0 L4.5,3.5 L1.7,3.5 L3.5,1.35 L0,1.35 Z" fill="#000"/>
<path transform="translate(397.9,85.5)" d="M0,-1.35 L3.5,-1.35 L1.7,-3.5 L4.5,-3.5 L8.3,0 L4.5,3.5 L1.7,3.5 L3.5,1.35 L0,1.35 Z" fill="#000"/>
<path transform="translate(507.2,40.2)" d="M0,-1.35 L3.5,-1.35 L1.7,-3.5 L4.5,-3.5 L8.3,0 L4.5,3.5 L1.7,3.5 L3.5,1.35 L0,1.35 Z" fill="#000"/>
<path transform="translate(562.0,40.3)" d="M0,-1.35 L3.5,-1.35 L1.7,-3.5 L4.5,-3.5 L8.3,0 L4.5,3.5 L1.7,3.5 L3.5,1.35 L0,1.35 Z" fill="#000"/>
<path transform="translate(507.2,130.6)" d="M0,-1.35 L3.5,-1.35 L1.7,-3.5 L4.5,-3.5 L8.3,0 L4.5,3.5 L1.7,3.5 L3.5,1.35 L0,1.35 Z" fill="#000"/>
<path transform="translate(562.0,130.6)" d="M0,-1.35 L3.5,-1.35 L1.7,-3.5 L4.5,-3.5 L8.3,0 L4.5,3.5 L1.7,3.5 L3.5,1.35 L0,1.35 Z" fill="#000"/>
<path transform="translate(456.4,63.8) rotate(-45) scale(1.2) translate(-4.2,0)" d="M0,-1.35 L3.5,-1.35 L1.7,-3.5 L4.5,-3.5 L8.3,0 L4.5,3.5 L1.7,3.5 L3.5,1.35 L0,1.35 Z" fill="#000"/>
<path transform="translate(456.4,106.6) rotate(45) scale(1.2) translate(-4.2,0)" d="M0,-1.35 L3.5,-1.35 L1.7,-3.5 L4.5,-3.5 L8.3,0 L4.5,3.5 L1.7,3.5 L3.5,1.35 L0,1.35 Z" fill="#000"/>
<rect x="465.9" y="89.1" width="1.0" height="2.2" fill="#000"/>
<rect x="616.7" y="89.1" width="1.0" height="2.2" fill="#000"/>
<rect x="471.20" y="89.1" width="2.2" height="2.2" fill="#000"/>
<rect x="477.76" y="89.1" width="2.2" height="2.2" fill="#000"/>
<rect x="484.33" y="89.1" width="2.2" height="2.2" fill="#000"/>
<rect x="490.89" y="89.1" width="2.2" height="2.2" fill="#000"/>
<rect x="497.46" y="89.1" width="2.2" height="2.2" fill="#000"/>
<rect x="504.02" y="89.1" width="2.2" height="2.2" fill="#000"/>
<rect x="510.59" y="89.1" width="2.2" height="2.2" fill="#000"/>
<rect x="517.15" y="89.1" width="2.2" height="2.2" fill="#000"/>
<rect x="523.72" y="89.1" width="2.2" height="2.2" fill="#000"/>
<rect x="530.28" y="89.1" width="2.2" height="2.2" fill="#000"/>
<rect x="536.85" y="89.1" width="2.2" height="2.2" fill="#000"/>
<rect x="543.41" y="89.1" width="2.2" height="2.2" fill="#000"/>
<rect x="549.98" y="89.1" width="2.2" height="2.2" fill="#000"/>
<rect x="556.54" y="89.1" width="2.2" height="2.2" fill="#000"/>
<rect x="563.11" y="89.1" width="2.2" height="2.2" fill="#000"/>
<rect x="569.67" y="89.1" width="2.2" height="2.2" fill="#000"/>
<rect x="576.24" y="89.1" width="2.2" height="2.2" fill="#000"/>
<rect x="582.80" y="89.1" width="2.2" height="2.2" fill="#000"/>
<rect x="589.37" y="89.1" width="2.2" height="2.2" fill="#000"/>
<rect x="595.94" y="89.1" width="2.2" height="2.2" fill="#000"/>
<rect x="602.50" y="89.1" width="2.2" height="2.2" fill="#000"/>
<rect x="609.06" y="89.1" width="2.2" height="2.2" fill="#000"/>
<rect x="411.4" y="187.5" width="90.6" height="4" fill="#FFB000"/>
<text x="459.00" y="202.20" font-size="9.6" text-anchor="middle" fill="#1a1a1a" stroke="#1a1a1a" font-weight="normal"  stroke-width="0">1000ms</text>
<text x="326.30" y="197.30" font-size="10.5" text-anchor="middle" fill="#1a1a1a" stroke="#1a1a1a" font-weight="normal"  stroke-width="0">(µA)</text>
<text x="335.90" y="210.50" font-size="10.3" text-anchor="end" fill="#1a1a1a" stroke="#1a1a1a" font-weight="normal"  stroke-width="0">100</text>
<line x1="338.5" y1="207.4" x2="342.4" y2="207.4" stroke="#555555" stroke-width="1"/>
<text x="335.90" y="221.40" font-size="10.3" text-anchor="end" fill="#1a1a1a" stroke="#1a1a1a" font-weight="normal"  stroke-width="0">0</text>
<line x1="338.5" y1="218.9" x2="342.4" y2="218.9" stroke="#555555" stroke-width="1"/>
<text x="335.90" y="232.60" font-size="10.3" text-anchor="end" fill="#1a1a1a" stroke="#1a1a1a" font-weight="normal"  stroke-width="0">-100</text>
<line x1="338.5" y1="229.1" x2="342.4" y2="229.1" stroke="#555555" stroke-width="1"/>
<line x1="342.4" y1="202.6" x2="342.4" y2="233.3" stroke="#555555" stroke-width="1.1"/>
<line x1="341.8" y1="232.8" x2="578.4" y2="232.8" stroke="#555555" stroke-width="1.3"/>
<text x="457.70" y="245.30" font-size="9.8" text-anchor="middle" fill="#1a1a1a" stroke="#1a1a1a" font-weight="normal"  stroke-width="0">Time</text>
<text x="531.10" y="229.60" font-size="9.8" text-anchor="middle" fill="#1a1a1a" stroke="#1a1a1a" font-weight="normal"  stroke-width="0">333Hz</text>
<rect x="411.70" y="218.9" width="2.2" height="10.7" fill="#FFE6B0"/>
<rect x="413.90" y="207.9" width="2.2" height="10.8" fill="#FFE6B0"/>
<rect x="474.40" y="218.9" width="2.2" height="10.7" fill="#FFE6B0"/>
<rect x="476.60" y="207.9" width="2.2" height="10.8" fill="#FFE6B0"/>
<rect x="419.45" y="218.9" width="2.2" height="10.7" fill="#FFE6B0"/>
<rect x="421.65" y="207.9" width="2.2" height="10.8" fill="#FFE6B0"/>
<rect x="482.15" y="218.9" width="2.2" height="10.7" fill="#FFE6B0"/>
<rect x="484.35" y="207.9" width="2.2" height="10.8" fill="#FFE6B0"/>
<rect x="427.20" y="218.9" width="2.2" height="10.7" fill="#FFE6B0"/>
<rect x="429.40" y="207.9" width="2.2" height="10.8" fill="#FFE6B0"/>
<rect x="489.90" y="218.9" width="2.2" height="10.7" fill="#FFE6B0"/>
<rect x="492.10" y="207.9" width="2.2" height="10.8" fill="#FFE6B0"/>
<rect x="434.95" y="218.9" width="2.2" height="10.7" fill="#FFE6B0"/>
<rect x="437.15" y="207.9" width="2.2" height="10.8" fill="#FFE6B0"/>
<rect x="497.65" y="218.9" width="2.2" height="10.7" fill="#FFE6B0"/>
<rect x="499.85" y="207.9" width="2.2" height="10.8" fill="#FFE6B0"/>
<path d="M342.6,218.9H411.70 V229.4 H413.90 V207.9 H416.10 V218.9H419.45 V229.4 H421.65 V207.9 H423.85 V218.9H427.20 V229.4 H429.40 V207.9 H431.60 V218.9H434.95 V229.4 H437.15 V207.9 H439.35 V218.9H442" fill="none" stroke="#FFB000" stroke-width="1"/>
<path d="M472,218.9H474.40 V229.4 H476.60 V207.9 H478.80 V218.9H482.15 V229.4 H484.35 V207.9 H486.55 V218.9H489.90 V229.4 H492.10 V207.9 H494.30 V218.9H497.65 V229.4 H499.85 V207.9 H502.05 V218.9H574.2" fill="none" stroke="#FFB000" stroke-width="1"/>
<rect x="444.30" y="217.6" width="2.4" height="2.3" fill="#FFB000"/>
<rect x="449.90" y="217.6" width="2.4" height="2.3" fill="#FFB000"/>
<rect x="455.50" y="217.6" width="2.4" height="2.3" fill="#FFB000"/>
<rect x="461.10" y="217.6" width="2.4" height="2.3" fill="#FFB000"/>
<rect x="466.70" y="217.6" width="2.4" height="2.3" fill="#FFB000"/>
<line x1="60.4" y1="291.30" x2="60.4" y2="405.80" stroke="#222" stroke-width="1.2"/>
<line x1="59.8" y1="405.30" x2="204.5" y2="405.30" stroke="#222" stroke-width="1.2"/>
<line x1="57.3" y1="405.30" x2="60.4" y2="405.30" stroke="#222" stroke-width="1.1"/>
<text x="54.20" y="409.30" font-size="13.1" text-anchor="end" fill="#111" stroke="#111" font-weight="normal"  stroke-width="0.3">0</text>
<line x1="57.3" y1="348.55" x2="60.4" y2="348.55" stroke="#222" stroke-width="1.1"/>
<text x="54.20" y="352.55" font-size="13.1" text-anchor="end" fill="#111" stroke="#111" font-weight="normal"  stroke-width="0.3">50</text>
<line x1="57.3" y1="291.80" x2="60.4" y2="291.80" stroke="#222" stroke-width="1.1"/>
<text x="54.20" y="295.80" font-size="13.1" text-anchor="end" fill="#111" stroke="#111" font-weight="normal"  stroke-width="0.3">100</text>
<line x1="74.20" y1="405.30" x2="74.20" y2="408.30" stroke="#222" stroke-width="1.1"/>
<text x="74.20" y="423.00" font-size="13.1" text-anchor="middle" fill="#111" stroke="#111" font-weight="normal"  stroke-width="0.3">1</text>
<line x1="97.85" y1="405.30" x2="97.85" y2="408.30" stroke="#222" stroke-width="1.1"/>
<text x="97.85" y="423.00" font-size="13.1" text-anchor="middle" fill="#111" stroke="#111" font-weight="normal"  stroke-width="0.3">2</text>
<line x1="121.50" y1="405.30" x2="121.50" y2="408.30" stroke="#222" stroke-width="1.1"/>
<text x="121.50" y="423.00" font-size="13.1" text-anchor="middle" fill="#111" stroke="#111" font-weight="normal"  stroke-width="0.3">3</text>
<line x1="145.15" y1="405.30" x2="145.15" y2="408.30" stroke="#222" stroke-width="1.1"/>
<text x="145.15" y="423.00" font-size="13.1" text-anchor="middle" fill="#111" stroke="#111" font-weight="normal"  stroke-width="0.3">4</text>
<line x1="168.80" y1="405.30" x2="168.80" y2="408.30" stroke="#222" stroke-width="1.1"/>
<text x="168.80" y="423.00" font-size="13.1" text-anchor="middle" fill="#111" stroke="#111" font-weight="normal"  stroke-width="0.3">5</text>
<line x1="192.45" y1="405.30" x2="192.45" y2="408.30" stroke="#222" stroke-width="1.1"/>
<text x="192.45" y="423.00" font-size="13.1" text-anchor="middle" fill="#111" stroke="#111" font-weight="normal"  stroke-width="0.3">6</text>
<text x="133.30" y="438.10" font-size="13.3" text-anchor="middle" fill="#111" stroke="#111" font-weight="normal"  stroke-width="0.3">1st object value</text>
<text transform="translate(11.20,349.00) rotate(-90)" font-size="13.3" text-anchor="middle" fill="#111" stroke="#111" stroke-width="0.08">Choice rate</text>
<text transform="translate(27.30,349.00) rotate(-90)" font-size="13.3" text-anchor="middle" fill="#111" stroke="#111" stroke-width="0.08">of 1st object (%)</text>
<line x1="98.8" y1="327.55" x2="142.6" y2="327.55" stroke="#222" stroke-width="1" stroke-dasharray="1.2 1.72"/>
<line x1="98.8" y1="353.66" x2="142.6" y2="353.66" stroke="#222" stroke-width="1" stroke-dasharray="1.2 1.72"/>
<polyline points="74.20,404.73 97.85,405.30 121.50,397.92 145.15,353.66 168.80,291.80 192.45,291.80" fill="none" stroke="#999999" stroke-width="2.6" stroke-linejoin="round"/>
<circle cx="74.20" cy="404.73" r="4.1" fill="#999999"/>
<circle cx="97.85" cy="405.30" r="4.1" fill="#999999"/>
<circle cx="121.50" cy="397.92" r="4.1" fill="#999999"/>
<circle cx="145.15" cy="353.66" r="4.1" fill="#999999"/>
<circle cx="168.80" cy="291.80" r="4.1" fill="#999999"/>
<circle cx="192.45" cy="291.80" r="4.1" fill="#999999"/>
<polyline points="74.20,401.90 97.85,405.30 121.50,395.65 145.15,327.55 168.80,291.80 192.45,291.80" fill="none" stroke="#FFB000" stroke-width="2.6" stroke-linejoin="round"/>
<circle cx="74.20" cy="401.90" r="4.1" fill="#FFB000"/>
<circle cx="97.85" cy="405.30" r="4.1" fill="#FFB000"/>
<circle cx="121.50" cy="395.65" r="4.1" fill="#FFB000"/>
<circle cx="145.15" cy="327.55" r="4.1" fill="#FFB000"/>
<circle cx="168.80" cy="291.80" r="4.1" fill="#FFB000"/>
<circle cx="192.45" cy="291.80" r="4.1" fill="#FFB000"/>
<path d="M116.39999999999999,353.66 L116.39999999999999,343.35 L111.95,345.15 L118.55,327.55 L125.14999999999999,345.15 L120.7,343.35 L120.7,353.66 Z" fill="#FF0000"/>
<text x="105.20" y="320.05" font-size="12" text-anchor="middle" fill="#FF0000" stroke="#FF0000" font-weight="normal"  stroke-width="0.3">&#916;Choice rate</text>
<line x1="149.6" y1="376.7" x2="162.5" y2="376.7" stroke="#FFB000" stroke-width="2.4"/>
<circle cx="156" cy="376.7" r="4.1" fill="#FFB000"/>
<line x1="149.6" y1="391.6" x2="162.5" y2="391.6" stroke="#999" stroke-width="2.4"/>
<circle cx="156" cy="391.6" r="4.1" fill="#999"/>
<text x="166.20" y="380.70" font-size="12.0" text-anchor="start" fill="#111" stroke="#111" font-weight="normal"  stroke-width="0.3">Stim</text>
<text x="166.20" y="395.80" font-size="12.0" text-anchor="start" fill="#111" stroke="#111" font-weight="normal"  stroke-width="0.3">Non-stim</text>
<line x1="60.4" y1="473.30" x2="60.4" y2="587.80" stroke="#222" stroke-width="1.2"/>
<line x1="59.8" y1="587.30" x2="204.5" y2="587.30" stroke="#222" stroke-width="1.2"/>
<line x1="57.3" y1="587.30" x2="60.4" y2="587.30" stroke="#222" stroke-width="1.1"/>
<text x="54.20" y="591.30" font-size="13.1" text-anchor="end" fill="#111" stroke="#111" font-weight="normal"  stroke-width="0.3">0</text>
<line x1="57.3" y1="530.55" x2="60.4" y2="530.55" stroke="#222" stroke-width="1.1"/>
<text x="54.20" y="534.55" font-size="13.1" text-anchor="end" fill="#111" stroke="#111" font-weight="normal"  stroke-width="0.3">50</text>
<line x1="57.3" y1="473.80" x2="60.4" y2="473.80" stroke="#222" stroke-width="1.1"/>
<text x="54.20" y="477.80" font-size="13.1" text-anchor="end" fill="#111" stroke="#111" font-weight="normal"  stroke-width="0.3">100</text>
<line x1="74.20" y1="587.30" x2="74.20" y2="590.30" stroke="#222" stroke-width="1.1"/>
<text x="74.20" y="605.00" font-size="13.1" text-anchor="middle" fill="#111" stroke="#111" font-weight="normal"  stroke-width="0.3">1</text>
<line x1="97.85" y1="587.30" x2="97.85" y2="590.30" stroke="#222" stroke-width="1.1"/>
<text x="97.85" y="605.00" font-size="13.1" text-anchor="middle" fill="#111" stroke="#111" font-weight="normal"  stroke-width="0.3">2</text>
<line x1="121.50" y1="587.30" x2="121.50" y2="590.30" stroke="#222" stroke-width="1.1"/>
<text x="121.50" y="605.00" font-size="13.1" text-anchor="middle" fill="#111" stroke="#111" font-weight="normal"  stroke-width="0.3">3</text>
<line x1="145.15" y1="587.30" x2="145.15" y2="590.30" stroke="#222" stroke-width="1.1"/>
<text x="145.15" y="605.00" font-size="13.1" text-anchor="middle" fill="#111" stroke="#111" font-weight="normal"  stroke-width="0.3">4</text>
<line x1="168.80" y1="587.30" x2="168.80" y2="590.30" stroke="#222" stroke-width="1.1"/>
<text x="168.80" y="605.00" font-size="13.1" text-anchor="middle" fill="#111" stroke="#111" font-weight="normal"  stroke-width="0.3">5</text>
<line x1="192.45" y1="587.30" x2="192.45" y2="590.30" stroke="#222" stroke-width="1.1"/>
<text x="192.45" y="605.00" font-size="13.1" text-anchor="middle" fill="#111" stroke="#111" font-weight="normal"  stroke-width="0.3">6</text>
<text x="133.30" y="620.10" font-size="13.3" text-anchor="middle" fill="#111" stroke="#111" font-weight="normal"  stroke-width="0.3">1st object value</text>
<text transform="translate(11.20,531.00) rotate(-90)" font-size="13.3" text-anchor="middle" fill="#111" stroke="#111" stroke-width="0.08">Choice rate</text>
<text transform="translate(27.30,531.00) rotate(-90)" font-size="13.3" text-anchor="middle" fill="#111" stroke="#111" stroke-width="0.08">of 1st object (%)</text>
<line x1="98.8" y1="552.68" x2="142.6" y2="552.68" stroke="#222" stroke-width="1" stroke-dasharray="1.2 1.72"/>
<line x1="98.8" y1="526.01" x2="142.6" y2="526.01" stroke="#222" stroke-width="1" stroke-dasharray="1.2 1.72"/>
<polyline points="74.20,587.30 97.85,585.60 121.50,580.49 145.15,526.01 168.80,474.94 192.45,473.80" fill="none" stroke="#999999" stroke-width="2.6" stroke-linejoin="round"/>
<circle cx="74.20" cy="587.30" r="4.1" fill="#999999"/>
<circle cx="97.85" cy="585.60" r="4.1" fill="#999999"/>
<circle cx="121.50" cy="580.49" r="4.1" fill="#999999"/>
<circle cx="145.15" cy="526.01" r="4.1" fill="#999999"/>
<circle cx="168.80" cy="474.94" r="4.1" fill="#999999"/>
<circle cx="192.45" cy="473.80" r="4.1" fill="#999999"/>
<polyline points="74.20,586.16 97.85,586.73 121.50,585.82 145.15,552.68 168.80,477.21 192.45,473.80" fill="none" stroke="#FFB000" stroke-width="2.6" stroke-linejoin="round"/>
<circle cx="74.20" cy="586.16" r="4.1" fill="#FFB000"/>
<circle cx="97.85" cy="586.73" r="4.1" fill="#FFB000"/>
<circle cx="121.50" cy="585.82" r="4.1" fill="#FFB000"/>
<circle cx="145.15" cy="552.68" r="4.1" fill="#FFB000"/>
<circle cx="168.80" cy="477.21" r="4.1" fill="#FFB000"/>
<circle cx="192.45" cy="473.80" r="4.1" fill="#FFB000"/>
<path d="M116.39999999999999,526.01 L116.39999999999999,536.88 L111.95,535.08 L118.55,552.68 L125.14999999999999,535.08 L120.7,536.88 L120.7,526.01 Z" fill="#0A2AFF"/>
<text x="105.20" y="518.51" font-size="12" text-anchor="middle" fill="#0A2AFF" stroke="#0A2AFF" font-weight="normal"  stroke-width="0.3">&#916;Choice rate</text>
<line x1="292.60" y1="327.80" x2="292.60" y2="370.60" stroke="#777" stroke-width="1.1"/>
<line x1="292.10" y1="370.00" x2="684.5" y2="370.00" stroke="#777" stroke-width="1.2"/>
<line x1="292.60" y1="370.00" x2="292.60" y2="373.20" stroke="#333" stroke-width="1"/>
<text x="292.10" y="387.60" font-size="13.1" text-anchor="middle" fill="#111" stroke="#111" font-weight="normal"  stroke-width="0.3">0</text>
<line x1="364.60" y1="370.00" x2="364.60" y2="373.20" stroke="#333" stroke-width="1"/>
<text x="364.10" y="387.60" font-size="13.1" text-anchor="middle" fill="#111" stroke="#111" font-weight="normal"  stroke-width="0.3">20</text>
<line x1="436.60" y1="370.00" x2="436.60" y2="373.20" stroke="#333" stroke-width="1"/>
<text x="436.10" y="387.60" font-size="13.1" text-anchor="middle" fill="#111" stroke="#111" font-weight="normal"  stroke-width="0.3">40</text>
<line x1="508.60" y1="370.00" x2="508.60" y2="373.20" stroke="#333" stroke-width="1"/>
<text x="508.10" y="387.60" font-size="13.1" text-anchor="middle" fill="#111" stroke="#111" font-weight="normal"  stroke-width="0.3">60</text>
<line x1="580.60" y1="370.00" x2="580.60" y2="373.20" stroke="#333" stroke-width="1"/>
<text x="580.10" y="387.60" font-size="13.1" text-anchor="middle" fill="#111" stroke="#111" font-weight="normal"  stroke-width="0.3">80</text>
<line x1="652.60" y1="370.00" x2="652.60" y2="373.20" stroke="#333" stroke-width="1"/>
<text x="652.10" y="387.60" font-size="13.1" text-anchor="middle" fill="#111" stroke="#111" font-weight="normal"  stroke-width="0.3">100</text>
<text x="487.20" y="402.70" font-size="13.3" text-anchor="middle" fill="#111" stroke="#111" font-weight="normal"  stroke-width="0.3">Trial number</text>
<text x="258.20" y="340.40" font-size="13.4" text-anchor="middle" fill="#111" stroke="#111" font-weight="normal"  stroke-width="0.3">Choice</text>
<text x="258.20" y="368.50" font-size="13.4" text-anchor="middle" fill="#111" stroke="#111" font-weight="normal"  stroke-width="0.3">No choice</text>
<rect x="295.10" y="327.70" width="2.2" height="14.2" fill="#FFB000"/>
<rect x="298.70" y="327.70" width="2.2" height="14.2" fill="#FFB000"/>
<rect x="316.70" y="327.70" width="2.2" height="14.2" fill="#FFB000"/>
<rect x="320.30" y="327.70" width="2.2" height="14.2" fill="#FFB000"/>
<rect x="323.90" y="327.70" width="2.2" height="14.2" fill="#FFB000"/>
<rect x="327.50" y="327.70" width="2.2" height="14.2" fill="#FFB000"/>
<rect x="331.10" y="327.70" width="2.2" height="14.2" fill="#999999"/>
<rect x="334.70" y="327.70" width="2.2" height="14.2" fill="#999999"/>
<rect x="341.90" y="327.70" width="2.2" height="14.2" fill="#FFB000"/>
<rect x="345.50" y="327.70" width="2.2" height="14.2" fill="#FFB000"/>
<rect x="349.10" y="327.70" width="2.2" height="14.2" fill="#999999"/>
<rect x="363.50" y="327.70" width="2.2" height="14.2" fill="#999999"/>
<rect x="367.10" y="327.70" width="2.2" height="14.2" fill="#FFB000"/>
<rect x="377.90" y="327.70" width="2.2" height="14.2" fill="#FFB000"/>
<rect x="381.50" y="327.70" width="2.2" height="14.2" fill="#FFB000"/>
<rect x="385.10" y="327.70" width="2.2" height="14.2" fill="#999999"/>
<rect x="388.70" y="327.70" width="2.2" height="14.2" fill="#999999"/>
<rect x="399.50" y="327.70" width="2.2" height="14.2" fill="#FFB000"/>
<rect x="403.10" y="327.70" width="2.2" height="14.2" fill="#999999"/>
<rect x="406.70" y="327.70" width="2.2" height="14.2" fill="#999999"/>
<rect x="413.90" y="327.70" width="2.2" height="14.2" fill="#999999"/>
<rect x="417.50" y="327.70" width="2.2" height="14.2" fill="#FFB000"/>
<rect x="424.70" y="327.70" width="2.2" height="14.2" fill="#FFB000"/>
<rect x="428.30" y="327.70" width="2.2" height="14.2" fill="#999999"/>
<rect x="431.90" y="327.70" width="2.2" height="14.2" fill="#999999"/>
<rect x="439.10" y="327.70" width="2.2" height="14.2" fill="#999999"/>
<rect x="449.90" y="327.70" width="2.2" height="14.2" fill="#999999"/>
<rect x="457.10" y="327.70" width="2.2" height="14.2" fill="#999999"/>
<rect x="464.30" y="327.70" width="2.2" height="14.2" fill="#FFB000"/>
<rect x="467.90" y="327.70" width="2.2" height="14.2" fill="#FFB000"/>
<rect x="471.50" y="327.70" width="2.2" height="14.2" fill="#FFB000"/>
<rect x="475.10" y="327.70" width="2.2" height="14.2" fill="#FFB000"/>
<rect x="478.70" y="327.70" width="2.2" height="14.2" fill="#999999"/>
<rect x="482.30" y="327.70" width="2.2" height="14.2" fill="#999999"/>
<rect x="496.70" y="327.70" width="2.2" height="14.2" fill="#FFB000"/>
<rect x="507.50" y="327.70" width="2.2" height="14.2" fill="#FFB000"/>
<rect x="511.10" y="327.70" width="2.2" height="14.2" fill="#FFB000"/>
<rect x="518.30" y="327.70" width="2.2" height="14.2" fill="#999999"/>
<rect x="525.50" y="327.70" width="2.2" height="14.2" fill="#FFB000"/>
<rect x="536.30" y="327.70" width="2.2" height="14.2" fill="#999999"/>
<rect x="539.90" y="327.70" width="2.2" height="14.2" fill="#FFB000"/>
<rect x="550.70" y="327.70" width="2.2" height="14.2" fill="#FFB000"/>
<rect x="557.90" y="327.70" width="2.2" height="14.2" fill="#999999"/>
<rect x="561.50" y="327.70" width="2.2" height="14.2" fill="#999999"/>
<rect x="568.70" y="327.70" width="2.2" height="14.2" fill="#FFB000"/>
<rect x="575.90" y="327.70" width="2.2" height="14.2" fill="#999999"/>
<rect x="597.50" y="327.70" width="2.2" height="14.2" fill="#999999"/>
<rect x="601.10" y="327.70" width="2.2" height="14.2" fill="#FFB000"/>
<rect x="604.70" y="327.70" width="2.2" height="14.2" fill="#FFB000"/>
<rect x="611.90" y="327.70" width="2.2" height="14.2" fill="#FFB000"/>
<rect x="615.50" y="327.70" width="2.2" height="14.2" fill="#999999"/>
<rect x="626.30" y="327.70" width="2.2" height="14.2" fill="#999999"/>
<rect x="644.30" y="327.70" width="2.2" height="14.2" fill="#FFB000"/>
<rect x="647.90" y="327.70" width="2.2" height="14.2" fill="#FFB000"/>
<rect x="651.50" y="327.70" width="2.2" height="14.2" fill="#FFB000"/>
<rect x="655.10" y="327.70" width="2.2" height="14.2" fill="#999999"/>
<rect x="658.70" y="327.70" width="2.2" height="14.2" fill="#FFB000"/>
<rect x="662.30" y="327.70" width="2.2" height="14.2" fill="#FFB000"/>
<rect x="665.90" y="327.70" width="2.2" height="14.2" fill="#FFB000"/>
<rect x="669.50" y="327.70" width="2.2" height="14.2" fill="#FFB000"/>
<rect x="680.30" y="327.70" width="2.2" height="14.2" fill="#999999"/>
<rect x="302.30" y="355.80" width="2.2" height="14.2" fill="#999999"/>
<rect x="305.90" y="355.80" width="2.2" height="14.2" fill="#FFB000"/>
<rect x="309.50" y="355.80" width="2.2" height="14.2" fill="#999999"/>
<rect x="313.10" y="355.80" width="2.2" height="14.2" fill="#FFB000"/>
<rect x="338.30" y="355.80" width="2.2" height="14.2" fill="#999999"/>
<rect x="352.70" y="355.80" width="2.2" height="14.2" fill="#FFB000"/>
<rect x="356.30" y="355.80" width="2.2" height="14.2" fill="#999999"/>
<rect x="359.90" y="355.80" width="2.2" height="14.2" fill="#FFB000"/>
<rect x="370.70" y="355.80" width="2.2" height="14.2" fill="#999999"/>
<rect x="374.30" y="355.80" width="2.2" height="14.2" fill="#FFB000"/>
<rect x="392.30" y="355.80" width="2.2" height="14.2" fill="#FFB000"/>
<rect x="395.90" y="355.80" width="2.2" height="14.2" fill="#FFB000"/>
<rect x="410.30" y="355.80" width="2.2" height="14.2" fill="#999999"/>
<rect x="421.10" y="355.80" width="2.2" height="14.2" fill="#FFB000"/>
<rect x="435.50" y="355.80" width="2.2" height="14.2" fill="#999999"/>
<rect x="442.70" y="355.80" width="2.2" height="14.2" fill="#999999"/>
<rect x="446.30" y="355.80" width="2.2" height="14.2" fill="#999999"/>
<rect x="453.50" y="355.80" width="2.2" height="14.2" fill="#999999"/>
<rect x="460.70" y="355.80" width="2.2" height="14.2" fill="#FFB000"/>
<rect x="485.90" y="355.80" width="2.2" height="14.2" fill="#999999"/>
<rect x="489.50" y="355.80" width="2.2" height="14.2" fill="#FFB000"/>
<rect x="493.10" y="355.80" width="2.2" height="14.2" fill="#999999"/>
<rect x="500.30" y="355.80" width="2.2" height="14.2" fill="#999999"/>
<rect x="503.90" y="355.80" width="2.2" height="14.2" fill="#999999"/>
<rect x="514.70" y="355.80" width="2.2" height="14.2" fill="#999999"/>
<rect x="521.90" y="355.80" width="2.2" height="14.2" fill="#999999"/>
<rect x="529.10" y="355.80" width="2.2" height="14.2" fill="#FFB000"/>
<rect x="532.70" y="355.80" width="2.2" height="14.2" fill="#999999"/>
<rect x="543.50" y="355.80" width="2.2" height="14.2" fill="#999999"/>
<rect x="547.10" y="355.80" width="2.2" height="14.2" fill="#999999"/>
<rect x="554.30" y="355.80" width="2.2" height="14.2" fill="#999999"/>
<rect x="565.10" y="355.80" width="2.2" height="14.2" fill="#999999"/>
<rect x="572.30" y="355.80" width="2.2" height="14.2" fill="#999999"/>
<rect x="579.50" y="355.80" width="2.2" height="14.2" fill="#999999"/>
<rect x="583.10" y="355.80" width="2.2" height="14.2" fill="#FFB000"/>
<rect x="586.70" y="355.80" width="2.2" height="14.2" fill="#999999"/>
<rect x="590.30" y="355.80" width="2.2" height="14.2" fill="#999999"/>
<rect x="593.90" y="355.80" width="2.2" height="14.2" fill="#FFB000"/>
<rect x="608.30" y="355.80" width="2.2" height="14.2" fill="#999999"/>
<rect x="619.10" y="355.80" width="2.2" height="14.2" fill="#999999"/>
<rect x="622.70" y="355.80" width="2.2" height="14.2" fill="#999999"/>
<rect x="629.90" y="355.80" width="2.2" height="14.2" fill="#999999"/>
<rect x="633.50" y="355.80" width="2.2" height="14.2" fill="#999999"/>
<rect x="637.10" y="355.80" width="2.2" height="14.2" fill="#FFB000"/>
<rect x="640.70" y="355.80" width="2.2" height="14.2" fill="#999999"/>
<rect x="673.10" y="355.80" width="2.2" height="14.2" fill="#FFB000"/>
<rect x="676.70" y="355.80" width="2.2" height="14.2" fill="#FFB000"/>
<line x1="292.20" y1="509.80" x2="292.20" y2="552.60" stroke="#777" stroke-width="1.1"/>
<line x1="291.70" y1="552.00" x2="684.5" y2="552.00" stroke="#777" stroke-width="1.2"/>
<line x1="292.20" y1="552.00" x2="292.20" y2="555.20" stroke="#333" stroke-width="1"/>
<text x="291.70" y="569.60" font-size="13.1" text-anchor="middle" fill="#111" stroke="#111" font-weight="normal"  stroke-width="0.3">0</text>
<line x1="346.60" y1="552.00" x2="346.60" y2="555.20" stroke="#333" stroke-width="1"/>
<text x="346.10" y="569.60" font-size="13.1" text-anchor="middle" fill="#111" stroke="#111" font-weight="normal"  stroke-width="0.3">20</text>
<line x1="401.00" y1="552.00" x2="401.00" y2="555.20" stroke="#333" stroke-width="1"/>
<text x="400.50" y="569.60" font-size="13.1" text-anchor="middle" fill="#111" stroke="#111" font-weight="normal"  stroke-width="0.3">40</text>
<line x1="455.40" y1="552.00" x2="455.40" y2="555.20" stroke="#333" stroke-width="1"/>
<text x="454.90" y="569.60" font-size="13.1" text-anchor="middle" fill="#111" stroke="#111" font-weight="normal"  stroke-width="0.3">60</text>
<line x1="509.80" y1="552.00" x2="509.80" y2="555.20" stroke="#333" stroke-width="1"/>
<text x="509.30" y="569.60" font-size="13.1" text-anchor="middle" fill="#111" stroke="#111" font-weight="normal"  stroke-width="0.3">80</text>
<line x1="564.20" y1="552.00" x2="564.20" y2="555.20" stroke="#333" stroke-width="1"/>
<text x="563.70" y="569.60" font-size="13.1" text-anchor="middle" fill="#111" stroke="#111" font-weight="normal"  stroke-width="0.3">100</text>
<line x1="618.60" y1="552.00" x2="618.60" y2="555.20" stroke="#333" stroke-width="1"/>
<text x="618.10" y="569.60" font-size="13.1" text-anchor="middle" fill="#111" stroke="#111" font-weight="normal"  stroke-width="0.3">120</text>
<line x1="673.00" y1="552.00" x2="673.00" y2="555.20" stroke="#333" stroke-width="1"/>
<text x="672.50" y="569.60" font-size="13.1" text-anchor="middle" fill="#111" stroke="#111" font-weight="normal"  stroke-width="0.3">140</text>
<text x="487.20" y="584.70" font-size="13.3" text-anchor="middle" fill="#111" stroke="#111" font-weight="normal"  stroke-width="0.3">Trial number</text>
<text x="258.20" y="522.40" font-size="13.4" text-anchor="middle" fill="#111" stroke="#111" font-weight="normal"  stroke-width="0.3">Choice</text>
<text x="258.20" y="550.50" font-size="13.4" text-anchor="middle" fill="#111" stroke="#111" font-weight="normal"  stroke-width="0.3">No choice</text>
<rect x="307.42" y="509.70" width="2.2" height="14.2" fill="#999999"/>
<rect x="310.14" y="509.70" width="2.2" height="14.2" fill="#999999"/>
<rect x="312.86" y="509.70" width="2.2" height="14.2" fill="#999999"/>
<rect x="321.02" y="509.70" width="2.2" height="14.2" fill="#999999"/>
<rect x="329.18" y="509.70" width="2.2" height="14.2" fill="#FFB000"/>
<rect x="334.62" y="509.70" width="2.2" height="14.2" fill="#999999"/>
<rect x="337.34" y="509.70" width="2.2" height="14.2" fill="#FFB000"/>
<rect x="348.22" y="509.70" width="2.2" height="14.2" fill="#999999"/>
<rect x="350.94" y="509.70" width="2.2" height="14.2" fill="#999999"/>
<rect x="356.38" y="509.70" width="2.2" height="14.2" fill="#FFB000"/>
<rect x="359.10" y="509.70" width="2.2" height="14.2" fill="#999999"/>
<rect x="361.82" y="509.70" width="2.2" height="14.2" fill="#999999"/>
<rect x="367.26" y="509.70" width="2.2" height="14.2" fill="#FFB000"/>
<rect x="369.98" y="509.70" width="2.2" height="14.2" fill="#999999"/>
<rect x="372.70" y="509.70" width="2.2" height="14.2" fill="#999999"/>
<rect x="375.42" y="509.70" width="2.2" height="14.2" fill="#FFB000"/>
<rect x="383.58" y="509.70" width="2.2" height="14.2" fill="#FFB000"/>
<rect x="386.30" y="509.70" width="2.2" height="14.2" fill="#999999"/>
<rect x="394.46" y="509.70" width="2.2" height="14.2" fill="#999999"/>
<rect x="397.18" y="509.70" width="2.2" height="14.2" fill="#999999"/>
<rect x="402.62" y="509.70" width="2.2" height="14.2" fill="#FFB000"/>
<rect x="408.06" y="509.70" width="2.2" height="14.2" fill="#999999"/>
<rect x="413.50" y="509.70" width="2.2" height="14.2" fill="#FFB000"/>
<rect x="416.22" y="509.70" width="2.2" height="14.2" fill="#999999"/>
<rect x="421.66" y="509.70" width="2.2" height="14.2" fill="#FFB000"/>
<rect x="429.82" y="509.70" width="2.2" height="14.2" fill="#999999"/>
<rect x="435.26" y="509.70" width="2.2" height="14.2" fill="#FFB000"/>
<rect x="437.98" y="509.70" width="2.2" height="14.2" fill="#999999"/>
<rect x="440.70" y="509.70" width="2.2" height="14.2" fill="#FFB000"/>
<rect x="446.14" y="509.70" width="2.2" height="14.2" fill="#999999"/>
<rect x="448.86" y="509.70" width="2.2" height="14.2" fill="#999999"/>
<rect x="451.58" y="509.70" width="2.2" height="14.2" fill="#FFB000"/>
<rect x="457.02" y="509.70" width="2.2" height="14.2" fill="#FFB000"/>
<rect x="481.50" y="509.70" width="2.2" height="14.2" fill="#FFB000"/>
<rect x="519.58" y="509.70" width="2.2" height="14.2" fill="#FFB000"/>
<rect x="525.02" y="509.70" width="2.2" height="14.2" fill="#999999"/>
<rect x="527.74" y="509.70" width="2.2" height="14.2" fill="#999999"/>
<rect x="530.46" y="509.70" width="2.2" height="14.2" fill="#999999"/>
<rect x="535.90" y="509.70" width="2.2" height="14.2" fill="#FFB000"/>
<rect x="549.50" y="509.70" width="2.2" height="14.2" fill="#999999"/>
<rect x="554.94" y="509.70" width="2.2" height="14.2" fill="#FFB000"/>
<rect x="557.66" y="509.70" width="2.2" height="14.2" fill="#999999"/>
<rect x="560.38" y="509.70" width="2.2" height="14.2" fill="#999999"/>
<rect x="565.82" y="509.70" width="2.2" height="14.2" fill="#FFB000"/>
<rect x="568.54" y="509.70" width="2.2" height="14.2" fill="#999999"/>
<rect x="573.98" y="509.70" width="2.2" height="14.2" fill="#FFB000"/>
<rect x="576.70" y="509.70" width="2.2" height="14.2" fill="#999999"/>
<rect x="582.14" y="509.70" width="2.2" height="14.2" fill="#FFB000"/>
<rect x="584.86" y="509.70" width="2.2" height="14.2" fill="#999999"/>
<rect x="587.58" y="509.70" width="2.2" height="14.2" fill="#FFB000"/>
<rect x="590.30" y="509.70" width="2.2" height="14.2" fill="#999999"/>
<rect x="622.94" y="509.70" width="2.2" height="14.2" fill="#999999"/>
<rect x="625.66" y="509.70" width="2.2" height="14.2" fill="#999999"/>
<rect x="628.38" y="509.70" width="2.2" height="14.2" fill="#999999"/>
<rect x="631.10" y="509.70" width="2.2" height="14.2" fill="#FFB000"/>
<rect x="647.42" y="509.70" width="2.2" height="14.2" fill="#FFB000"/>
<rect x="655.58" y="509.70" width="2.2" height="14.2" fill="#999999"/>
<rect x="663.74" y="509.70" width="2.2" height="14.2" fill="#999999"/>
<rect x="674.62" y="509.70" width="2.2" height="14.2" fill="#999999"/>
<rect x="293.82" y="537.80" width="2.2" height="14.2" fill="#999999"/>
<rect x="296.54" y="537.80" width="2.2" height="14.2" fill="#FFB000"/>
<rect x="299.26" y="537.80" width="2.2" height="14.2" fill="#999999"/>
<rect x="301.98" y="537.80" width="2.2" height="14.2" fill="#FFB000"/>
<rect x="304.70" y="537.80" width="2.2" height="14.2" fill="#FFB000"/>
<rect x="315.58" y="537.80" width="2.2" height="14.2" fill="#999999"/>
<rect x="318.30" y="537.80" width="2.2" height="14.2" fill="#999999"/>
<rect x="323.74" y="537.80" width="2.2" height="14.2" fill="#FFB000"/>
<rect x="326.46" y="537.80" width="2.2" height="14.2" fill="#FFB000"/>
<rect x="331.90" y="537.80" width="2.2" height="14.2" fill="#FFB000"/>
<rect x="340.06" y="537.80" width="2.2" height="14.2" fill="#FFB000"/>
<rect x="342.78" y="537.80" width="2.2" height="14.2" fill="#999999"/>
<rect x="345.50" y="537.80" width="2.2" height="14.2" fill="#FFB000"/>
<rect x="353.66" y="537.80" width="2.2" height="14.2" fill="#FFB000"/>
<rect x="364.54" y="537.80" width="2.2" height="14.2" fill="#FFB000"/>
<rect x="378.14" y="537.80" width="2.2" height="14.2" fill="#999999"/>
<rect x="380.86" y="537.80" width="2.2" height="14.2" fill="#FFB000"/>
<rect x="389.02" y="537.80" width="2.2" height="14.2" fill="#FFB000"/>
<rect x="391.74" y="537.80" width="2.2" height="14.2" fill="#FFB000"/>
<rect x="399.90" y="537.80" width="2.2" height="14.2" fill="#FFB000"/>
<rect x="405.34" y="537.80" width="2.2" height="14.2" fill="#FFB000"/>
<rect x="410.78" y="537.80" width="2.2" height="14.2" fill="#999999"/>
<rect x="418.94" y="537.80" width="2.2" height="14.2" fill="#FFB000"/>
<rect x="424.38" y="537.80" width="2.2" height="14.2" fill="#FFB000"/>
<rect x="427.10" y="537.80" width="2.2" height="14.2" fill="#FFB000"/>
<rect x="432.54" y="537.80" width="2.2" height="14.2" fill="#999999"/>
<rect x="443.42" y="537.80" width="2.2" height="14.2" fill="#FFB000"/>
<rect x="454.30" y="537.80" width="2.2" height="14.2" fill="#FFB000"/>
<rect x="459.74" y="537.80" width="2.2" height="14.2" fill="#FFB000"/>
<rect x="462.46" y="537.80" width="2.2" height="14.2" fill="#FFB000"/>
<rect x="465.18" y="537.80" width="2.2" height="14.2" fill="#999999"/>
<rect x="467.90" y="537.80" width="2.2" height="14.2" fill="#FFB000"/>
<rect x="470.62" y="537.80" width="2.2" height="14.2" fill="#999999"/>
<rect x="473.34" y="537.80" width="2.2" height="14.2" fill="#FFB000"/>
<rect x="476.06" y="537.80" width="2.2" height="14.2" fill="#999999"/>
<rect x="478.78" y="537.80" width="2.2" height="14.2" fill="#999999"/>
<rect x="484.22" y="537.80" width="2.2" height="14.2" fill="#FFB000"/>
<rect x="486.94" y="537.80" width="2.2" height="14.2" fill="#FFB000"/>
<rect x="489.66" y="537.80" width="2.2" height="14.2" fill="#FFB000"/>
<rect x="492.38" y="537.80" width="2.2" height="14.2" fill="#FFB000"/>
<rect x="495.10" y="537.80" width="2.2" height="14.2" fill="#FFB000"/>
<rect x="497.82" y="537.80" width="2.2" height="14.2" fill="#FFB000"/>
<rect x="500.54" y="537.80" width="2.2" height="14.2" fill="#FFB000"/>
<rect x="503.26" y="537.80" width="2.2" height="14.2" fill="#FFB000"/>
<rect x="505.98" y="537.80" width="2.2" height="14.2" fill="#FFB000"/>
<rect x="508.70" y="537.80" width="2.2" height="14.2" fill="#FFB000"/>
<rect x="511.42" y="537.80" width="2.2" height="14.2" fill="#FFB000"/>
<rect x="514.14" y="537.80" width="2.2" height="14.2" fill="#999999"/>
<rect x="516.86" y="537.80" width="2.2" height="14.2" fill="#FFB000"/>
<rect x="522.30" y="537.80" width="2.2" height="14.2" fill="#FFB000"/>
<rect x="533.18" y="537.80" width="2.2" height="14.2" fill="#FFB000"/>
<rect x="538.62" y="537.80" width="2.2" height="14.2" fill="#FFB000"/>
<rect x="541.34" y="537.80" width="2.2" height="14.2" fill="#FFB000"/>
<rect x="544.06" y="537.80" width="2.2" height="14.2" fill="#999999"/>
<rect x="546.78" y="537.80" width="2.2" height="14.2" fill="#FFB000"/>
<rect x="552.22" y="537.80" width="2.2" height="14.2" fill="#FFB000"/>
<rect x="563.10" y="537.80" width="2.2" height="14.2" fill="#FFB000"/>
<rect x="571.26" y="537.80" width="2.2" height="14.2" fill="#999999"/>
<rect x="579.42" y="537.80" width="2.2" height="14.2" fill="#999999"/>
<rect x="593.02" y="537.80" width="2.2" height="14.2" fill="#FFB000"/>
<rect x="595.74" y="537.80" width="2.2" height="14.2" fill="#999999"/>
<rect x="598.46" y="537.80" width="2.2" height="14.2" fill="#999999"/>
<rect x="601.18" y="537.80" width="2.2" height="14.2" fill="#FFB000"/>
<rect x="603.90" y="537.80" width="2.2" height="14.2" fill="#FFB000"/>
<rect x="606.62" y="537.80" width="2.2" height="14.2" fill="#FFB000"/>
<rect x="609.34" y="537.80" width="2.2" height="14.2" fill="#999999"/>
<rect x="612.06" y="537.80" width="2.2" height="14.2" fill="#999999"/>
<rect x="614.78" y="537.80" width="2.2" height="14.2" fill="#999999"/>
<rect x="617.50" y="537.80" width="2.2" height="14.2" fill="#999999"/>
<rect x="620.22" y="537.80" width="2.2" height="14.2" fill="#999999"/>
<rect x="633.82" y="537.80" width="2.2" height="14.2" fill="#999999"/>
<rect x="636.54" y="537.80" width="2.2" height="14.2" fill="#999999"/>
<rect x="639.26" y="537.80" width="2.2" height="14.2" fill="#FFB000"/>
<rect x="641.98" y="537.80" width="2.2" height="14.2" fill="#999999"/>
<rect x="644.70" y="537.80" width="2.2" height="14.2" fill="#FFB000"/>
<rect x="650.14" y="537.80" width="2.2" height="14.2" fill="#999999"/>
<rect x="652.86" y="537.80" width="2.2" height="14.2" fill="#999999"/>
<rect x="658.30" y="537.80" width="2.2" height="14.2" fill="#FFB000"/>
<rect x="661.02" y="537.80" width="2.2" height="14.2" fill="#FFB000"/>
<rect x="666.46" y="537.80" width="2.2" height="14.2" fill="#999999"/>
<rect x="669.18" y="537.80" width="2.2" height="14.2" fill="#FFB000"/>
<rect x="671.90" y="537.80" width="2.2" height="14.2" fill="#999999"/>
<rect x="677.34" y="537.80" width="2.2" height="14.2" fill="#FFB000"/>
<rect x="680.06" y="537.80" width="2.2" height="14.2" fill="#999999"/>
<text x="316.10" y="305.10" font-size="14.9" text-anchor="start" fill="#111" stroke="#111" font-weight="normal"  stroke-width="0.3">Monkey’s action selection for 1st object with value 4</text>
<rect x="575.2" y="428.8" width="3" height="14.4" fill="#FFB000"/>
<rect x="575.2" y="447.8" width="3" height="14.4" fill="#999999"/>
<text x="588.30" y="439.20" font-size="11.9" text-anchor="start" fill="#111" stroke="#111" font-weight="normal"  stroke-width="0.3">Trial with stim</text>
<text x="588.30" y="457.80" font-size="11.9" text-anchor="start" fill="#111" stroke="#111" font-weight="normal"  stroke-width="0.3">Trial with non-stim</text>
<rect x="61.50" y="655.89" width="7.50" height="9.38" fill="#FF0000" stroke="#000" stroke-width="0.9"/>
<rect x="61.50" y="665.28" width="15.00" height="9.38" fill="#FF0000" stroke="#000" stroke-width="0.9"/>
<rect x="61.50" y="674.66" width="7.50" height="9.38" fill="#FF0000" stroke="#000" stroke-width="0.9"/>
<rect x="69.00" y="674.66" width="7.50" height="9.38" fill="#fff" stroke="#000" stroke-width="0.9"/>
<rect x="61.50" y="684.05" width="82.50" height="9.38" fill="#fff" stroke="#000" stroke-width="0.9"/>
<rect x="61.50" y="693.43" width="45.00" height="9.38" fill="#fff" stroke="#000" stroke-width="0.9"/>
<rect x="61.50" y="702.82" width="67.50" height="9.38" fill="#fff" stroke="#000" stroke-width="0.9"/>
<rect x="61.50" y="712.20" width="52.50" height="9.38" fill="#fff" stroke="#000" stroke-width="0.9"/>
<rect x="61.50" y="721.59" width="52.50" height="9.38" fill="#fff" stroke="#000" stroke-width="0.9"/>
<rect x="61.50" y="730.97" width="45.00" height="9.38" fill="#fff" stroke="#000" stroke-width="0.9"/>
<rect x="61.50" y="740.36" width="7.50" height="9.38" fill="#0A3CFF" stroke="#000" stroke-width="0.9"/>
<rect x="69.00" y="740.36" width="15.00" height="9.38" fill="#fff" stroke="#000" stroke-width="0.9"/>
<rect x="61.50" y="749.74" width="15.00" height="9.38" fill="#0A3CFF" stroke="#000" stroke-width="0.9"/>
<line x1="61.5" y1="655.39" x2="61.5" y2="769.01" stroke="#111" stroke-width="1.1"/>
<line x1="61" y1="768" x2="174.3" y2="768" stroke="#111" stroke-width="1.1"/>
<line x1="61.5" y1="712.2" x2="174.1" y2="712.2" stroke="#111" stroke-width="1.1"/>
<line x1="58.2" y1="655.89" x2="61.5" y2="655.89" stroke="#111" stroke-width="1.1"/>
<text x="54.70" y="659.89" font-size="13.1" text-anchor="end" fill="#111" stroke="#111" font-weight="normal"  stroke-width="0.3">30</text>
<line x1="58.2" y1="684.05" x2="61.5" y2="684.05" stroke="#111" stroke-width="1.1"/>
<text x="54.70" y="688.05" font-size="13.1" text-anchor="end" fill="#111" stroke="#111" font-weight="normal"  stroke-width="0.3">15</text>
<line x1="58.2" y1="712.20" x2="61.5" y2="712.20" stroke="#111" stroke-width="1.1"/>
<text x="54.70" y="716.20" font-size="13.1" text-anchor="end" fill="#111" stroke="#111" font-weight="normal"  stroke-width="0.3">0</text>
<line x1="58.2" y1="740.36" x2="61.5" y2="740.36" stroke="#111" stroke-width="1.1"/>
<text x="54.70" y="744.36" font-size="13.1" text-anchor="end" fill="#111" stroke="#111" font-weight="normal"  stroke-width="0.3">-15</text>
<line x1="58.2" y1="768.51" x2="61.5" y2="768.51" stroke="#111" stroke-width="1.1"/>
<text x="54.70" y="772.51" font-size="13.1" text-anchor="end" fill="#111" stroke="#111" font-weight="normal"  stroke-width="0.3">-30</text>
<line x1="61.50" y1="768" x2="61.50" y2="771.3" stroke="#111" stroke-width="1.1"/>
<text x="61.50" y="786.90" font-size="13.1" text-anchor="middle" fill="#111" stroke="#111" font-weight="normal"  stroke-width="0.3">0</text>
<line x1="99.00" y1="768" x2="99.00" y2="771.3" stroke="#111" stroke-width="1.1"/>
<text x="99.00" y="786.90" font-size="13.1" text-anchor="middle" fill="#111" stroke="#111" font-weight="normal"  stroke-width="0.3">5</text>
<line x1="136.50" y1="768" x2="136.50" y2="771.3" stroke="#111" stroke-width="1.1"/>
<text x="136.50" y="786.90" font-size="13.1" text-anchor="middle" fill="#111" stroke="#111" font-weight="normal"  stroke-width="0.3">10</text>
<line x1="174.00" y1="768" x2="174.00" y2="771.3" stroke="#111" stroke-width="1.1"/>
<text x="174.00" y="786.90" font-size="13.1" text-anchor="middle" fill="#111" stroke="#111" font-weight="normal"  stroke-width="0.3">15</text>
<text x="121.90" y="801.20" font-size="13.3" text-anchor="middle" fill="#111" stroke="#111" font-weight="normal"  stroke-width="0.3">Number of stimulation sites</text>
<text transform="translate(11.20,712.20) rotate(-90)" font-size="13.3" text-anchor="middle" fill="#111" stroke="#111" stroke-width="0.08">&#916;Choice rate of</text>
<text transform="translate(28.00,712.20) rotate(-90)" font-size="13.3" text-anchor="middle" fill="#111" stroke="#111" stroke-width="0.08">1st object with value 4 (%)</text>
<path d="M162.9,709.4 L170.6,705.3 L170.6,713.5 Z" fill="#000"/>
<text x="177.00" y="713.00" font-size="12.4" text-anchor="start" fill="#111" stroke="#111" font-weight="normal"  stroke-width="0.3">n.s.</text>
<rect x="124.6" y="651.8" width="5.6" height="5.7" fill="#FF0000" stroke="#000" stroke-width="0.8"/>
<rect x="132.3" y="651.8" width="5.6" height="5.7" fill="#0A3CFF" stroke="#000" stroke-width="0.8"/>
<rect x="128.7" y="664.6" width="5.6" height="5.7" fill="#fff" stroke="#000" stroke-width="0.8"/>
<text x="141.90" y="658.30" font-size="12.2" text-anchor="start" fill="#111" stroke="#111" font-weight="normal"  stroke-width="0.3">p &lt; 0.05</text>
<text x="141.90" y="670.80" font-size="12.2" text-anchor="start" fill="#111" stroke="#111" font-weight="normal"  stroke-width="0.3">n.s.</text>
<line x1="274.2" y1="655.8" x2="274.2" y2="768.5" stroke="#111" stroke-width="1.1"/>
<line x1="273.7" y1="768" x2="417.6" y2="768" stroke="#111" stroke-width="1.1"/>
<line x1="271" y1="768.00" x2="274.2" y2="768.00" stroke="#111" stroke-width="1.1"/>
<text x="268.00" y="772.00" font-size="13.1" text-anchor="end" fill="#111" stroke="#111" font-weight="normal"  stroke-width="0.3">0</text>
<line x1="271" y1="717.00" x2="274.2" y2="717.00" stroke="#111" stroke-width="1.1"/>
<text x="268.00" y="721.00" font-size="13.1" text-anchor="end" fill="#111" stroke="#111" font-weight="normal"  stroke-width="0.3">5</text>
<line x1="271" y1="666.00" x2="274.2" y2="666.00" stroke="#111" stroke-width="1.1"/>
<text x="268.00" y="670.00" font-size="13.1" text-anchor="end" fill="#111" stroke="#111" font-weight="normal"  stroke-width="0.3">10</text>
<line x1="286.40" y1="768" x2="286.40" y2="771.3" stroke="#111" stroke-width="1.1"/>
<text x="286.40" y="787.10" font-size="13.1" text-anchor="middle" fill="#111" stroke="#111" font-weight="normal"  stroke-width="0.3">1</text>
<line x1="310.32" y1="768" x2="310.32" y2="771.3" stroke="#111" stroke-width="1.1"/>
<text x="310.32" y="787.10" font-size="13.1" text-anchor="middle" fill="#111" stroke="#111" font-weight="normal"  stroke-width="0.3">2</text>
<line x1="334.24" y1="768" x2="334.24" y2="771.3" stroke="#111" stroke-width="1.1"/>
<text x="334.24" y="787.10" font-size="13.1" text-anchor="middle" fill="#111" stroke="#111" font-weight="normal"  stroke-width="0.3">3</text>
<line x1="358.16" y1="768" x2="358.16" y2="771.3" stroke="#111" stroke-width="1.1"/>
<text x="358.16" y="787.10" font-size="13.1" text-anchor="middle" fill="#111" stroke="#111" font-weight="normal"  stroke-width="0.3">4</text>
<line x1="382.08" y1="768" x2="382.08" y2="771.3" stroke="#111" stroke-width="1.1"/>
<text x="382.08" y="787.10" font-size="13.1" text-anchor="middle" fill="#111" stroke="#111" font-weight="normal"  stroke-width="0.3">5</text>
<line x1="406.00" y1="768" x2="406.00" y2="771.3" stroke="#111" stroke-width="1.1"/>
<text x="406.00" y="787.10" font-size="13.1" text-anchor="middle" fill="#111" stroke="#111" font-weight="normal"  stroke-width="0.3">6</text>
<text x="346.70" y="801.20" font-size="13.3" text-anchor="middle" fill="#111" stroke="#111" font-weight="normal"  stroke-width="0.3">1st object value</text>
<text transform="translate(248.00,713.30) rotate(-90)" font-size="13.7" text-anchor="middle" fill="#111" stroke="#111" stroke-width="0.08">|&#916;Choice rate| (%)</text>
<polyline points="286.40,761.88 310.32,760.45 334.24,746.99 358.16,669.67 382.08,749.33 406.00,763.10" fill="none" stroke="#000" stroke-width="1.9" stroke-linejoin="round"/>
<line x1="358.16" y1="661.4" x2="358.16" y2="679.2" stroke="#000" stroke-width="1.4"/>
<line x1="356.66" y1="661.4" x2="359.66" y2="661.4" stroke="#000" stroke-width="1.4"/>
<line x1="356.66" y1="679.2" x2="359.66" y2="679.2" stroke="#000" stroke-width="1.4"/>
<circle cx="286.40" cy="761.88" r="3.7" fill="#000"/>
<circle cx="310.32" cy="760.45" r="3.7" fill="#000"/>
<circle cx="334.24" cy="746.99" r="3.7" fill="#000"/>
<circle cx="358.16" cy="669.67" r="3.7" fill="#000"/>
<circle cx="382.08" cy="749.33" r="3.7" fill="#000"/>
<circle cx="406.00" cy="763.10" r="3.7" fill="#000"/>
<path d="M365.80,662.00 L365.80,659.10 M365.80,662.00 L368.56,661.10 M365.80,662.00 L367.50,664.35 M365.80,662.00 L364.10,664.35 M365.80,662.00 L363.04,661.10 " stroke="#111" stroke-width="1.35" stroke-linecap="butt" fill="none"/>
<path d="M372.50,662.00 L372.50,659.10 M372.50,662.00 L375.26,661.10 M372.50,662.00 L374.20,664.35 M372.50,662.00 L370.80,664.35 M372.50,662.00 L369.74,661.10 " stroke="#111" stroke-width="1.35" stroke-linecap="butt" fill="none"/>
<line x1="529.2" y1="655.89" x2="532.4" y2="655.89" stroke="#111" stroke-width="1.1"/>
<text x="524.90" y="659.89" font-size="13.1" text-anchor="end" fill="#111" stroke="#111" font-weight="normal"  stroke-width="0.3">30</text>
<line x1="529.2" y1="684.05" x2="532.4" y2="684.05" stroke="#111" stroke-width="1.1"/>
<text x="524.90" y="688.05" font-size="13.1" text-anchor="end" fill="#111" stroke="#111" font-weight="normal"  stroke-width="0.3">15</text>
<line x1="529.2" y1="712.20" x2="532.4" y2="712.20" stroke="#111" stroke-width="1.1"/>
<text x="524.90" y="716.20" font-size="13.1" text-anchor="end" fill="#111" stroke="#111" font-weight="normal"  stroke-width="0.3">0</text>
<line x1="529.2" y1="740.36" x2="532.4" y2="740.36" stroke="#111" stroke-width="1.1"/>
<text x="524.90" y="744.36" font-size="13.1" text-anchor="end" fill="#111" stroke="#111" font-weight="normal"  stroke-width="0.3">-15</text>
<line x1="529.2" y1="768.51" x2="532.4" y2="768.51" stroke="#111" stroke-width="1.1"/>
<text x="524.90" y="772.51" font-size="13.1" text-anchor="end" fill="#111" stroke="#111" font-weight="normal"  stroke-width="0.3">-30</text>
<line x1="532.4" y1="655.39" x2="532.4" y2="769.01" stroke="#111" stroke-width="1.1"/>
<line x1="531.9" y1="768" x2="644.4" y2="768" stroke="#111" stroke-width="1.1"/>
<line x1="532.40" y1="768" x2="532.40" y2="771.3" stroke="#111" stroke-width="1.1"/>
<text x="532.40" y="786.80" font-size="13.1" text-anchor="middle" fill="#111" stroke="#111" font-weight="normal"  stroke-width="0.3">0</text>
<line x1="554.70" y1="768" x2="554.70" y2="771.3" stroke="#111" stroke-width="1.1"/>
<text x="554.70" y="786.80" font-size="13.1" text-anchor="middle" fill="#111" stroke="#111" font-weight="normal"  stroke-width="0.3">1</text>
<line x1="577.00" y1="768" x2="577.00" y2="771.3" stroke="#111" stroke-width="1.1"/>
<text x="577.00" y="786.80" font-size="13.1" text-anchor="middle" fill="#111" stroke="#111" font-weight="normal"  stroke-width="0.3">2</text>
<line x1="599.30" y1="768" x2="599.30" y2="771.3" stroke="#111" stroke-width="1.1"/>
<text x="599.30" y="786.80" font-size="13.1" text-anchor="middle" fill="#111" stroke="#111" font-weight="normal"  stroke-width="0.3">3</text>
<line x1="621.60" y1="768" x2="621.60" y2="771.3" stroke="#111" stroke-width="1.1"/>
<text x="621.60" y="786.80" font-size="13.1" text-anchor="middle" fill="#111" stroke="#111" font-weight="normal"  stroke-width="0.3">4</text>
<line x1="643.90" y1="768" x2="643.90" y2="771.3" stroke="#111" stroke-width="1.1"/>
<text x="643.90" y="786.80" font-size="13.1" text-anchor="middle" fill="#111" stroke="#111" font-weight="normal"  stroke-width="0.3">5</text>
<text x="652.80" y="786.80" font-size="13.1" text-anchor="start" fill="#111" stroke="#111" font-weight="normal"  stroke-width="0.3">×10</text>
<text x="674.20" y="779.60" font-size="9.2" text-anchor="start" fill="#111" stroke="#111" font-weight="normal"  stroke-width="0">-2</text>
<text x="588.40" y="800.70" font-size="13.3" text-anchor="middle" fill="#111" stroke="#111" font-weight="normal"  stroke-width="0.3">Proportion of stimulation sites</text>
<text transform="translate(483.00,712.20) rotate(-90)" font-size="11.95" text-anchor="middle" fill="#111" stroke="#111" stroke-width="0.08">Normalized &#916;choice rate</text>
<text transform="translate(497.30,711.50) rotate(-90)" font-size="11.95" text-anchor="middle" fill="#111" stroke="#111" stroke-width="0.08">of 1st object with value 4 (%)</text>
<line x1="532.4" y1="712.2" x2="644.6" y2="712.2" stroke="#111" stroke-width="1.1"/>
<polyline points="532.89,768.51 532.98,767.57 533.09,766.63 533.22,765.69 533.37,764.76 533.54,763.82 533.74,762.88 533.97,761.94 534.24,761.00 534.54,760.06 534.88,759.12 535.28,758.19 535.72,757.25 536.22,756.31 536.78,755.37 537.41,754.43 538.11,753.49 538.90,752.56 539.77,751.62 540.73,750.68 541.78,749.74 542.95,748.80 544.22,747.86 545.60,746.92 547.10,745.99 548.73,745.05 550.48,744.11 552.36,743.17 554.37,742.23 556.51,741.29 558.79,740.36 561.19,739.42 563.72,738.48 566.37,737.54 569.13,736.60 572.00,735.66 574.98,734.72 578.04,733.79 581.17,732.85 584.37,731.91 587.62,730.97 590.89,730.03 594.17,729.09 597.45,728.15 600.70,727.22 603.90,726.28 607.03,725.34 610.06,724.40 612.98,723.46 615.77,722.52 618.40,721.59 620.84,720.65 623.09,719.71 625.12,718.77 626.92,717.83 628.47,716.89 629.75,715.95 630.76,715.02 631.49,714.08 631.93,713.14 632.08,712.20 631.93,711.26 631.49,710.32 630.76,709.38 629.75,708.45 628.47,707.51 626.92,706.57 625.12,705.63 623.09,704.69 620.84,703.75 618.40,702.82 615.77,701.88 612.98,700.94 610.06,700.00 607.03,699.06 603.90,698.12 600.70,697.18 597.45,696.25 594.17,695.31 590.89,694.37 587.62,693.43 584.37,692.49 581.17,691.55 578.04,690.61 574.98,689.68 572.00,688.74 569.13,687.80 566.37,686.86 563.72,685.92 561.19,684.98 558.79,684.05 556.51,683.11 554.37,682.17 552.36,681.23 550.48,680.29 548.73,679.35 547.10,678.41 545.60,677.48 544.22,676.54 542.95,675.60 541.78,674.66 540.73,673.72 539.77,672.78 538.90,671.84 538.11,670.91 537.41,669.97 536.78,669.03 536.22,668.09 535.72,667.15 535.28,666.21 534.88,665.28 534.54,664.34 534.24,663.40 533.97,662.46 533.74,661.52 533.54,660.58 533.37,659.64 533.22,658.71 533.09,657.77 532.98,656.83 532.89,655.89" fill="none" stroke="#000" stroke-width="1.9"/>
<polyline points="535.62,768.51 535.97,767.57 536.36,766.63 536.78,765.69 537.24,764.76 537.74,763.82 538.28,762.88 538.86,761.94 539.49,761.00 540.17,760.06 540.89,759.12 541.67,758.19 542.50,757.25 543.38,756.31 544.32,755.37 545.31,754.43 546.37,753.49 547.49,752.56 548.66,751.62 549.90,750.68 551.19,749.74 552.55,748.80 553.97,747.86 555.44,746.92 556.98,745.99 558.57,745.05 560.21,744.11 561.91,743.17 563.65,742.23 565.44,741.29 567.26,740.36 569.13,739.42 571.02,738.48 572.94,737.54 574.88,736.60 576.84,735.66 578.81,734.72 580.77,733.79 582.73,732.85 584.68,731.91 586.60,730.97 588.50,730.03 590.37,729.09 592.18,728.15 593.95,727.22 595.66,726.28 597.30,725.34 598.87,724.40 600.35,723.46 601.74,722.52 603.04,721.59 604.23,720.65 605.32,719.71 606.29,718.77 607.14,717.83 607.87,716.89 608.48,715.95 608.95,715.02 609.29,714.08 609.49,713.14 609.56,712.20 609.49,711.26 609.29,710.32 608.95,709.38 608.48,708.45 607.87,707.51 607.14,706.57 606.29,705.63 605.32,704.69 604.23,703.75 603.04,702.82 601.74,701.88 600.35,700.94 598.87,700.00 597.30,699.06 595.66,698.12 593.95,697.18 592.18,696.25 590.37,695.31 588.50,694.37 586.60,693.43 584.68,692.49 582.73,691.55 580.77,690.61 578.81,689.68 576.84,688.74 574.88,687.80 572.94,686.86 571.02,685.92 569.13,684.98 567.26,684.05 565.44,683.11 563.65,682.17 561.91,681.23 560.21,680.29 558.57,679.35 556.98,678.41 555.44,677.48 553.97,676.54 552.55,675.60 551.19,674.66 549.90,673.72 548.66,672.78 547.49,671.84 546.37,670.91 545.31,669.97 544.32,669.03 543.38,668.09 542.50,667.15 541.67,666.21 540.89,665.28 540.17,664.34 539.49,663.40 538.86,662.46 538.28,661.52 537.74,660.58 537.24,659.64 536.78,658.71 536.36,657.77 535.97,656.83 535.62,655.89" fill="none" stroke="#FFB000" stroke-width="1.9"/>
<line x1="570.4" y1="691.50" x2="570.4" y2="732.30" stroke="#FFB000" stroke-width="1.9"/>
<path d="M570.4,687.50 L574.85,697.50 L570.4,695.10 L565.9499999999999,697.50 Z" fill="#FFB000"/>
<path d="M570.4,736.30 L574.85,726.30 L570.4,728.70 L565.9499999999999,726.30 Z" fill="#FFB000"/>
<line x1="581.5" y1="696.20" x2="581.5" y2="726.70" stroke="#333" stroke-width="1.9"/>
<path d="M581.5,692.20 L585.95,702.20 L581.5,699.80 L577.05,702.20 Z" fill="#333"/>
<path d="M581.5,730.70 L585.95,720.70 L581.5,723.10 L577.05,720.70 Z" fill="#333"/>
<text x="561.30" y="667.90" font-size="9.0" text-anchor="start" fill="#FFB000" stroke="#FFB000" font-weight="normal"  stroke-width="0">Distribution width</text>
<text x="561.30" y="678.30" font-size="9.0" text-anchor="start" fill="#FFB000" stroke="#FFB000" font-weight="normal"  stroke-width="0">of original data</text>
<text x="587.00" y="740.50" font-size="9.0" text-anchor="start" fill="#333" stroke="#333" font-weight="normal"  stroke-width="0">Chance-level</text>
<text x="587.00" y="751.10" font-size="9.0" text-anchor="start" fill="#333" stroke="#333" font-weight="normal"  stroke-width="0">distribution width</text>
<text x="587.00" y="761.70" font-size="9.0" text-anchor="start" fill="#333" stroke="#333" font-weight="normal"  stroke-width="0">of shuffled data</text>
</svg>
</body></html>
